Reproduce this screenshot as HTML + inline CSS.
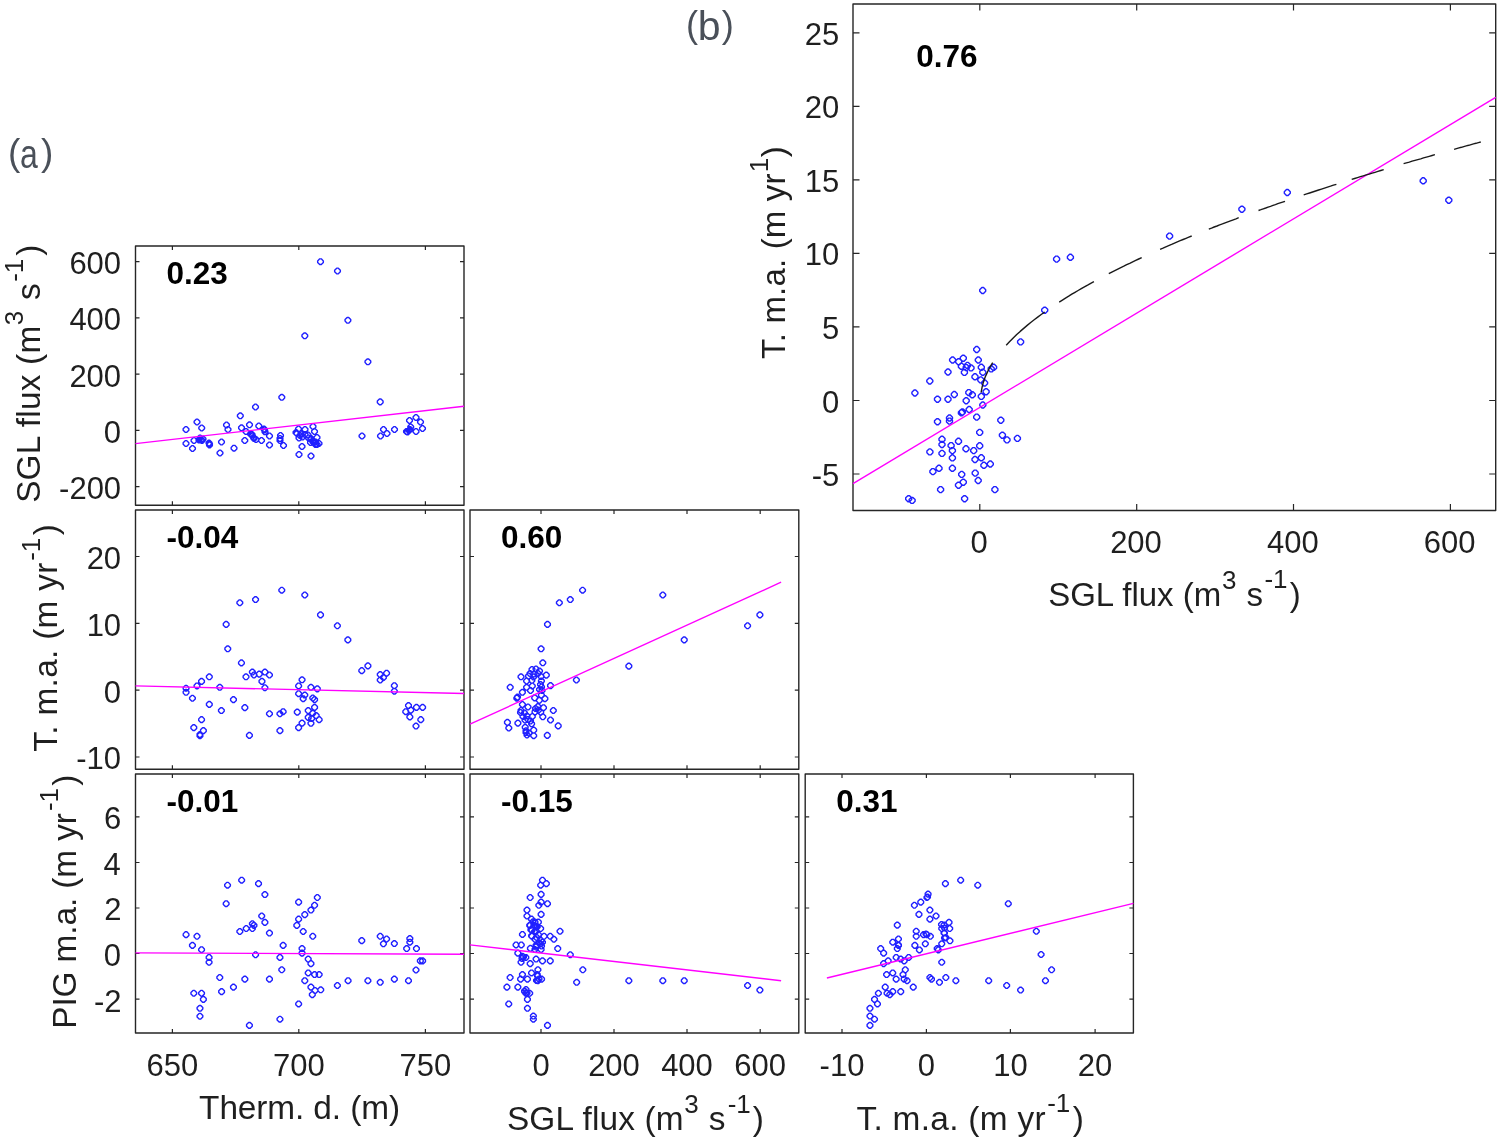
<!DOCTYPE html>
<html><head><meta charset="utf-8"><style>
html,body{margin:0;padding:0;background:#fff;width:1500px;height:1141px;overflow:hidden}
svg{display:block;will-change:transform}
text{font-family:"Liberation Sans", sans-serif}
</style></head><body>
<svg width="1500" height="1141" viewBox="0 0 1500 1141" font-family='"Liberation Sans", sans-serif'><path d="M172.4 505.3v-4M172.4 246.0v4M298.8 505.3v-4M298.8 246.0v4M425.4 505.3v-4M425.4 246.0v4M135.5 261.6h4M464.0 261.6h-4M135.5 317.9h4M464.0 317.9h-4M135.5 374.1h4M464.0 374.1h-4M135.5 430.4h4M464.0 430.4h-4M135.5 486.6h4M464.0 486.6h-4" stroke="#262626" stroke-width="1.2" fill="none"/>
<rect x="135.5" y="246" width="328.5" height="259.3" stroke="#262626" stroke-width="1.4" stroke-linejoin="round" fill="none"/>
<path d="M172.4 769.2v-4M172.4 510.0v4M298.8 769.2v-4M298.8 510.0v4M425.4 769.2v-4M425.4 510.0v4M135.5 556.5h4M464.0 556.5h-4M135.5 623.3h4M464.0 623.3h-4M135.5 690.2h4M464.0 690.2h-4M135.5 757.0h4M464.0 757.0h-4" stroke="#262626" stroke-width="1.2" fill="none"/>
<rect x="135.5" y="510" width="328.5" height="259.2" stroke="#262626" stroke-width="1.4" stroke-linejoin="round" fill="none"/>
<path d="M541.0 769.2v-4M541.0 510.0v4M614.0 769.2v-4M614.0 510.0v4M687.0 769.2v-4M687.0 510.0v4M760.2 769.2v-4M760.2 510.0v4M470.0 556.5h4M798.8 556.5h-4M470.0 623.3h4M798.8 623.3h-4M470.0 690.2h4M798.8 690.2h-4M470.0 757.0h4M798.8 757.0h-4" stroke="#262626" stroke-width="1.2" fill="none"/>
<rect x="470" y="510" width="328.8" height="259.2" stroke="#262626" stroke-width="1.4" stroke-linejoin="round" fill="none"/>
<path d="M172.4 1033.0v-4M172.4 774.0v4M298.8 1033.0v-4M298.8 774.0v4M425.4 1033.0v-4M425.4 774.0v4M135.5 816.9h4M464.0 816.9h-4M135.5 862.5h4M464.0 862.5h-4M135.5 908.0h4M464.0 908.0h-4M135.5 953.5h4M464.0 953.5h-4M135.5 999.1h4M464.0 999.1h-4" stroke="#262626" stroke-width="1.2" fill="none"/>
<rect x="135.5" y="774" width="328.5" height="259.0" stroke="#262626" stroke-width="1.4" stroke-linejoin="round" fill="none"/>
<path d="M541.0 1033.0v-4M541.0 774.0v4M614.0 1033.0v-4M614.0 774.0v4M687.0 1033.0v-4M687.0 774.0v4M760.2 1033.0v-4M760.2 774.0v4M470.0 816.9h4M798.8 816.9h-4M470.0 862.5h4M798.8 862.5h-4M470.0 908.0h4M798.8 908.0h-4M470.0 953.5h4M798.8 953.5h-4M470.0 999.1h4M798.8 999.1h-4" stroke="#262626" stroke-width="1.2" fill="none"/>
<rect x="470" y="774" width="328.8" height="259.0" stroke="#262626" stroke-width="1.4" stroke-linejoin="round" fill="none"/>
<path d="M842.0 1033.0v-4M842.0 774.0v4M926.4 1033.0v-4M926.4 774.0v4M1010.4 1033.0v-4M1010.4 774.0v4M1095.1 1033.0v-4M1095.1 774.0v4M805.2 816.9h4M1133.4 816.9h-4M805.2 862.5h4M1133.4 862.5h-4M805.2 908.0h4M1133.4 908.0h-4M805.2 953.5h4M1133.4 953.5h-4M805.2 999.1h4M1133.4 999.1h-4" stroke="#262626" stroke-width="1.2" fill="none"/>
<rect x="805.2" y="774" width="328.2" height="259.0" stroke="#262626" stroke-width="1.4" stroke-linejoin="round" fill="none"/>
<path d="M979.8 510.5v-6.5M979.8 4.0v6.5M1136.7 510.5v-6.5M1136.7 4.0v6.5M1293.5 510.5v-6.5M1293.5 4.0v6.5M1450.4 510.5v-6.5M1450.4 4.0v6.5M853.0 32.8h6.5M1495.7 32.8h-6.5M853.0 106.3h6.5M1495.7 106.3h-6.5M853.0 179.9h6.5M1495.7 179.9h-6.5M853.0 253.4h6.5M1495.7 253.4h-6.5M853.0 326.9h6.5M1495.7 326.9h-6.5M853.0 400.5h6.5M1495.7 400.5h-6.5M853.0 474.0h6.5M1495.7 474.0h-6.5" stroke="#262626" stroke-width="1.2" fill="none"/>
<rect x="853" y="4" width="642.7" height="506.5" stroke="#262626" stroke-width="1.4" stroke-linejoin="round" fill="none"/>
<text x="69.39" y="274.02" font-size="31.0" font-weight="normal" text-anchor="start" fill="#1f1f1f">600</text>
<text x="69.39" y="330.27" font-size="31.0" font-weight="normal" text-anchor="start" fill="#1f1f1f">400</text>
<text x="69.39" y="386.52" font-size="31.0" font-weight="normal" text-anchor="start" fill="#1f1f1f">200</text>
<text x="103.87" y="442.77" font-size="31.0" font-weight="normal" text-anchor="start" fill="#1f1f1f">0</text>
<text x="59.07" y="499.02" font-size="31.0" font-weight="normal" text-anchor="start" fill="#1f1f1f">-200</text>
<text x="86.63" y="568.92" font-size="31.0" font-weight="normal" text-anchor="start" fill="#1f1f1f">20</text>
<text x="86.63" y="635.72" font-size="31.0" font-weight="normal" text-anchor="start" fill="#1f1f1f">10</text>
<text x="103.87" y="702.62" font-size="31.0" font-weight="normal" text-anchor="start" fill="#1f1f1f">0</text>
<text x="76.31" y="769.42" font-size="31.0" font-weight="normal" text-anchor="start" fill="#1f1f1f">-10</text>
<text x="104.02" y="829.32" font-size="31.0" font-weight="normal" text-anchor="start" fill="#1f1f1f">6</text>
<text x="103.57" y="874.87" font-size="31.0" font-weight="normal" text-anchor="start" fill="#1f1f1f">4</text>
<text x="104.22" y="920.42" font-size="31.0" font-weight="normal" text-anchor="start" fill="#1f1f1f">2</text>
<text x="103.87" y="965.97" font-size="31.0" font-weight="normal" text-anchor="start" fill="#1f1f1f">0</text>
<text x="93.90" y="1011.52" font-size="31.0" font-weight="normal" text-anchor="start" fill="#1f1f1f">-2</text>
<text x="804.82" y="44.82" font-size="31.0" font-weight="normal" text-anchor="start" fill="#1f1f1f">25</text>
<text x="804.73" y="118.32" font-size="31.0" font-weight="normal" text-anchor="start" fill="#1f1f1f">20</text>
<text x="804.82" y="191.92" font-size="31.0" font-weight="normal" text-anchor="start" fill="#1f1f1f">15</text>
<text x="804.73" y="265.42" font-size="31.0" font-weight="normal" text-anchor="start" fill="#1f1f1f">10</text>
<text x="822.06" y="338.92" font-size="31.0" font-weight="normal" text-anchor="start" fill="#1f1f1f">5</text>
<text x="821.97" y="412.52" font-size="31.0" font-weight="normal" text-anchor="start" fill="#1f1f1f">0</text>
<text x="811.74" y="486.02" font-size="31.0" font-weight="normal" text-anchor="start" fill="#1f1f1f">-5</text>
<text x="172.40" y="1075.84" font-size="31.0" font-weight="normal" text-anchor="middle" fill="#1f1f1f">650</text>
<text x="298.80" y="1075.84" font-size="31.0" font-weight="normal" text-anchor="middle" fill="#1f1f1f">700</text>
<text x="425.40" y="1075.84" font-size="31.0" font-weight="normal" text-anchor="middle" fill="#1f1f1f">750</text>
<text x="541.00" y="1075.84" font-size="31.0" font-weight="normal" text-anchor="middle" fill="#1f1f1f">0</text>
<text x="614.00" y="1075.84" font-size="31.0" font-weight="normal" text-anchor="middle" fill="#1f1f1f">200</text>
<text x="687.00" y="1075.84" font-size="31.0" font-weight="normal" text-anchor="middle" fill="#1f1f1f">400</text>
<text x="760.20" y="1075.84" font-size="31.0" font-weight="normal" text-anchor="middle" fill="#1f1f1f">600</text>
<text x="842.00" y="1075.84" font-size="31.0" font-weight="normal" text-anchor="middle" fill="#1f1f1f">-10</text>
<text x="926.40" y="1075.84" font-size="31.0" font-weight="normal" text-anchor="middle" fill="#1f1f1f">0</text>
<text x="1010.40" y="1075.84" font-size="31.0" font-weight="normal" text-anchor="middle" fill="#1f1f1f">10</text>
<text x="1095.10" y="1075.84" font-size="31.0" font-weight="normal" text-anchor="middle" fill="#1f1f1f">20</text>
<text x="979.10" y="552.64" font-size="31.0" font-weight="normal" text-anchor="middle" fill="#1f1f1f">0</text>
<text x="1136.00" y="552.64" font-size="31.0" font-weight="normal" text-anchor="middle" fill="#1f1f1f">200</text>
<text x="1292.80" y="552.64" font-size="31.0" font-weight="normal" text-anchor="middle" fill="#1f1f1f">400</text>
<text x="1449.70" y="552.64" font-size="31.0" font-weight="normal" text-anchor="middle" fill="#1f1f1f">600</text>
<text x="166.50" y="283.90" font-size="31.5" font-weight="bold" text-anchor="start" fill="#000">0.23</text>
<text x="166.50" y="547.90" font-size="31.5" font-weight="bold" text-anchor="start" fill="#000">-0.04</text>
<text x="501.00" y="547.90" font-size="31.5" font-weight="bold" text-anchor="start" fill="#000">0.60</text>
<text x="166.50" y="811.90" font-size="31.5" font-weight="bold" text-anchor="start" fill="#000">-0.01</text>
<text x="501.00" y="811.90" font-size="31.5" font-weight="bold" text-anchor="start" fill="#000">-0.15</text>
<text x="836.20" y="811.90" font-size="31.5" font-weight="bold" text-anchor="start" fill="#000">0.31</text>
<text x="916.30" y="66.60" font-size="31.5" font-weight="bold" text-anchor="start" fill="#000">0.76</text>
<text x="8.00" y="165.10" font-size="37" font-weight="normal" text-anchor="start" fill="#4a5059">(</text>
<text transform="translate(20.04,167.6) scale(0.8,1)" font-size="40" fill="#4a5059">a</text>
<text x="40.90" y="165.10" font-size="37" font-weight="normal" text-anchor="start" fill="#4a5059">)</text>
<text x="686.00" y="36.90" font-size="36.2" font-weight="normal" text-anchor="start" fill="#4a5059">(</text>
<text x="697.80" y="40.20" font-size="41" font-weight="normal" text-anchor="start" fill="#4a5059">b</text>
<text x="721.80" y="36.90" font-size="36.2" font-weight="normal" text-anchor="start" fill="#4a5059">)</text>
<text x="199.10" y="1119.20" font-size="33.4" fill="#1f1f1f" textLength="200.92" lengthAdjust="spacing">Therm. d. (m)</text>
<text x="506.93" y="1129.60" font-size="33.4" fill="#1f1f1f" textLength="176.72" lengthAdjust="spacing">SGL flux (m</text>
<text x="684.26" y="1113.00" font-size="26.0" font-weight="normal" text-anchor="start" fill="#1f1f1f">3</text>
<text x="708.72" y="1129.60" font-size="33.4" font-weight="normal" text-anchor="start" fill="#1f1f1f">s</text>
<text x="727.69" y="1112.60" font-size="26.0" font-weight="normal" text-anchor="start" fill="#1f1f1f">-1</text>
<text x="752.85" y="1129.60" font-size="33.4" font-weight="normal" text-anchor="start" fill="#1f1f1f">)</text>
<text x="1048.15" y="605.50" font-size="33.0" fill="#1f1f1f" textLength="173.17" lengthAdjust="spacing">SGL flux (m</text>
<text x="1222.06" y="588.60" font-size="26.0" font-weight="normal" text-anchor="start" fill="#1f1f1f">3</text>
<text x="1246.43" y="605.50" font-size="33.0" font-weight="normal" text-anchor="start" fill="#1f1f1f">s</text>
<text x="1264.39" y="588.40" font-size="26.0" font-weight="normal" text-anchor="start" fill="#1f1f1f">-1</text>
<text x="1289.66" y="605.50" font-size="33.0" font-weight="normal" text-anchor="start" fill="#1f1f1f">)</text>
<text x="856.40" y="1129.60" font-size="33.4" fill="#1f1f1f" textLength="189.20" lengthAdjust="spacing">T. m.a. (m yr</text>
<text x="1047.19" y="1112.40" font-size="26.0" font-weight="normal" text-anchor="start" fill="#1f1f1f">-1</text>
<text x="1072.85" y="1129.60" font-size="33.4" font-weight="normal" text-anchor="start" fill="#1f1f1f">)</text>
<text transform="translate(39.80,502.87) rotate(-90)" x="0" y="0" font-size="33.4" fill="#1f1f1f" textLength="177.12" lengthAdjust="spacing">SGL flux (m</text>
<text transform="translate(22.90,325.24) rotate(-90)" x="0" y="0" font-size="26.0" fill="#1f1f1f">3</text>
<text transform="translate(39.80,299.98) rotate(-90)" x="0" y="0" font-size="33.4" fill="#1f1f1f">s</text>
<text transform="translate(23.20,281.81) rotate(-90)" x="0" y="0" font-size="26.0" fill="#1f1f1f">-1</text>
<text transform="translate(39.80,255.75) rotate(-90)" x="0" y="0" font-size="33.4" fill="#1f1f1f">)</text>
<text transform="translate(57.40,751.70) rotate(-90)" x="0" y="0" font-size="33.4" fill="#1f1f1f" textLength="189.10" lengthAdjust="spacing">T. m.a. (m yr</text>
<text transform="translate(40.20,560.81) rotate(-90)" x="0" y="0" font-size="26.0" fill="#1f1f1f">-1</text>
<text transform="translate(57.40,535.35) rotate(-90)" x="0" y="0" font-size="33.4" fill="#1f1f1f">)</text>
<text transform="translate(75.60,1028.79) rotate(-90)" x="0" y="0" font-size="33.4" fill="#1f1f1f" textLength="215.79" lengthAdjust="spacing">PIG m.a. (m yr</text>
<text transform="translate(58.40,811.11) rotate(-90)" x="0" y="0" font-size="26.0" fill="#1f1f1f">-1</text>
<text transform="translate(75.60,785.65) rotate(-90)" x="0" y="0" font-size="33.4" fill="#1f1f1f">)</text>
<text transform="translate(784.60,358.89) rotate(-90)" x="0" y="0" font-size="33.0" fill="#1f1f1f" textLength="185.39" lengthAdjust="spacing">T. m.a. (m yr</text>
<text transform="translate(767.50,172.13) rotate(-90)" x="0" y="0" font-size="26.0" fill="#1f1f1f">1</text>
<text transform="translate(784.60,157.24) rotate(-90)" x="0" y="0" font-size="33.0" fill="#1f1f1f">)</text>
<path d="M323.35 260.90L323.35 262.50L321.30 264.55L319.70 264.55L317.65 262.50L317.65 260.90L319.70 258.85L321.30 258.85ZM340.35 270.20L340.35 271.80L338.30 273.85L336.70 273.85L334.65 271.80L334.65 270.20L336.70 268.15L338.30 268.15ZM350.75 319.50L350.75 321.10L348.70 323.15L347.10 323.15L345.05 321.10L345.05 319.50L347.10 317.45L348.70 317.45ZM307.65 335.00L307.65 336.60L305.60 338.65L304.00 338.65L301.95 336.60L301.95 335.00L304.00 332.95L305.60 332.95ZM370.75 361.00L370.75 362.60L368.70 364.65L367.10 364.65L365.05 362.60L365.05 361.00L367.10 358.95L368.70 358.95ZM284.65 396.50L284.65 398.10L282.60 400.15L281.00 400.15L278.95 398.10L278.95 396.50L281.00 394.45L282.60 394.45ZM383.05 401.10L383.05 402.70L381.00 404.75L379.40 404.75L377.35 402.70L377.35 401.10L379.40 399.05L381.00 399.05ZM258.35 406.20L258.35 407.80L256.30 409.85L254.70 409.85L252.65 407.80L252.65 406.20L254.70 404.15L256.30 404.15ZM243.15 415.00L243.15 416.60L241.10 418.65L239.50 418.65L237.45 416.60L237.45 415.00L239.50 412.95L241.10 412.95ZM199.85 421.20L199.85 422.80L197.80 424.85L196.20 424.85L194.15 422.80L194.15 421.20L196.20 419.15L197.80 419.15ZM188.85 428.70L188.85 430.30L186.80 432.35L185.20 432.35L183.15 430.30L183.15 428.70L185.20 426.65L186.80 426.65ZM204.55 427.20L204.55 428.80L202.50 430.85L200.90 430.85L198.85 428.80L198.85 427.20L200.90 425.15L202.50 425.15ZM229.35 424.20L229.35 425.80L227.30 427.85L225.70 427.85L223.65 425.80L223.65 424.20L225.70 422.15L227.30 422.15ZM230.85 428.70L230.85 430.30L228.80 432.35L227.20 432.35L225.15 430.30L225.15 428.70L227.20 426.65L228.80 426.65ZM244.35 427.00L244.35 428.60L242.30 430.65L240.70 430.65L238.65 428.60L238.65 427.00L240.70 424.95L242.30 424.95ZM252.35 424.00L252.35 425.60L250.30 427.65L248.70 427.65L246.65 425.60L246.65 424.00L248.70 421.95L250.30 421.95ZM248.85 430.70L248.85 432.30L246.80 434.35L245.20 434.35L243.15 432.30L243.15 430.70L245.20 428.65L246.80 428.65ZM254.85 433.70L254.85 435.30L252.80 437.35L251.20 437.35L249.15 435.30L249.15 433.70L251.20 431.65L252.80 431.65ZM256.35 436.70L256.35 438.30L254.30 440.35L252.70 440.35L250.65 438.30L250.65 436.70L252.70 434.65L254.30 434.65ZM261.65 425.20L261.65 426.80L259.60 428.85L258.00 428.85L255.95 426.80L255.95 425.20L258.00 423.15L259.60 423.15ZM266.85 428.20L266.85 429.80L264.80 431.85L263.20 431.85L261.15 429.80L261.15 428.20L263.20 426.15L264.80 426.15ZM267.85 431.00L267.85 432.60L265.80 434.65L264.20 434.65L262.15 432.60L262.15 431.00L264.20 428.95L265.80 428.95ZM272.35 435.20L272.35 436.80L270.30 438.85L268.70 438.85L266.65 436.80L266.65 435.20L268.70 433.15L270.30 433.15ZM264.35 439.70L264.35 441.30L262.30 443.35L260.70 443.35L258.65 441.30L258.65 439.70L260.70 437.65L262.30 437.65ZM272.35 444.20L272.35 445.80L270.30 447.85L268.70 447.85L266.65 445.80L266.65 444.20L268.70 442.15L270.30 442.15ZM283.35 434.70L283.35 436.30L281.30 438.35L279.70 438.35L277.65 436.30L277.65 434.70L279.70 432.65L281.30 432.65ZM282.85 439.70L282.85 441.30L280.80 443.35L279.20 443.35L277.15 441.30L277.15 439.70L279.20 437.65L280.80 437.65ZM286.35 444.70L286.35 446.30L284.30 448.35L282.70 448.35L280.65 446.30L280.65 444.70L282.70 442.65L284.30 442.65ZM247.65 439.70L247.65 441.30L245.60 443.35L244.00 443.35L241.95 441.30L241.95 439.70L244.00 437.65L245.60 437.65ZM236.85 447.40L236.85 449.00L234.80 451.05L233.20 451.05L231.15 449.00L231.15 447.40L233.20 445.35L234.80 445.35ZM224.35 441.20L224.35 442.80L222.30 444.85L220.70 444.85L218.65 442.80L218.65 441.20L220.70 439.15L222.30 439.15ZM222.85 452.20L222.85 453.80L220.80 455.85L219.20 455.85L217.15 453.80L217.15 452.20L219.20 450.15L220.80 450.15ZM188.85 442.70L188.85 444.30L186.80 446.35L185.20 446.35L183.15 444.30L183.15 442.70L185.20 440.65L186.80 440.65ZM195.35 447.70L195.35 449.30L193.30 451.35L191.70 451.35L189.65 449.30L189.65 447.70L191.70 445.65L193.30 445.65ZM196.85 439.70L196.85 441.30L194.80 443.35L193.20 443.35L191.15 441.30L191.15 439.70L193.20 437.65L194.80 437.65ZM202.85 437.20L202.85 438.80L200.80 440.85L199.20 440.85L197.15 438.80L197.15 437.20L199.20 435.15L200.80 435.15ZM204.85 439.70L204.85 441.30L202.80 443.35L201.20 443.35L199.15 441.30L199.15 439.70L201.20 437.65L202.80 437.65ZM201.85 439.20L201.85 440.80L199.80 442.85L198.20 442.85L196.15 440.80L196.15 439.20L198.20 437.15L199.80 437.15ZM211.85 442.20L211.85 443.80L209.80 445.85L208.20 445.85L206.15 443.80L206.15 442.20L208.20 440.15L209.80 440.15ZM212.35 444.20L212.35 445.80L210.30 447.85L208.70 447.85L206.65 445.80L206.65 444.20L208.70 442.15L210.30 442.15ZM301.35 428.20L301.35 429.80L299.30 431.85L297.70 431.85L295.65 429.80L295.65 428.20L297.70 426.15L299.30 426.15ZM307.85 428.70L307.85 430.30L305.80 432.35L304.20 432.35L302.15 430.30L302.15 428.70L304.20 426.65L305.80 426.65ZM315.85 425.70L315.85 427.30L313.80 429.35L312.20 429.35L310.15 427.30L310.15 425.70L312.20 423.65L313.80 423.65ZM317.35 430.70L317.35 432.30L315.30 434.35L313.70 434.35L311.65 432.30L311.65 430.70L313.70 428.65L315.30 428.65ZM298.85 431.70L298.85 433.30L296.80 435.35L295.20 435.35L293.15 433.30L293.15 431.70L295.20 429.65L296.80 429.65ZM303.85 433.20L303.85 434.80L301.80 436.85L300.20 436.85L298.15 434.80L298.15 433.20L300.20 431.15L301.80 431.15ZM310.85 434.20L310.85 435.80L308.80 437.85L307.20 437.85L305.15 435.80L305.15 434.20L307.20 432.15L308.80 432.15ZM319.85 436.70L319.85 438.30L317.80 440.35L316.20 440.35L314.15 438.30L314.15 436.70L316.20 434.65L317.80 434.65ZM313.85 438.70L313.85 440.30L311.80 442.35L310.20 442.35L308.15 440.30L308.15 438.70L310.20 436.65L311.80 436.65ZM315.85 441.20L315.85 442.80L313.80 444.85L312.20 444.85L310.15 442.80L310.15 441.20L312.20 439.15L313.80 439.15ZM321.85 442.70L321.85 444.30L319.80 446.35L318.20 446.35L316.15 444.30L316.15 442.70L318.20 440.65L319.80 440.65ZM318.35 443.70L318.35 445.30L316.30 447.35L314.70 447.35L312.65 445.30L312.65 443.70L314.70 441.65L316.30 441.65ZM304.85 445.70L304.85 447.30L302.80 449.35L301.20 449.35L299.15 447.30L299.15 445.70L301.20 443.65L302.80 443.65ZM301.85 453.70L301.85 455.30L299.80 457.35L298.20 457.35L296.15 455.30L296.15 453.70L298.20 451.65L299.80 451.65ZM313.85 455.20L313.85 456.80L311.80 458.85L310.20 458.85L308.15 456.80L308.15 455.20L310.20 453.15L311.80 453.15ZM364.85 435.20L364.85 436.80L362.80 438.85L361.20 438.85L359.15 436.80L359.15 435.20L361.20 433.15L362.80 433.15ZM383.35 435.20L383.35 436.80L381.30 438.85L379.70 438.85L377.65 436.80L377.65 435.20L379.70 433.15L381.30 433.15ZM386.35 428.70L386.35 430.30L384.30 432.35L382.70 432.35L380.65 430.30L380.65 428.70L382.70 426.65L384.30 426.65ZM389.85 432.70L389.85 434.30L387.80 436.35L386.20 436.35L384.15 434.30L384.15 432.70L386.20 430.65L387.80 430.65ZM397.35 428.70L397.35 430.30L395.30 432.35L393.70 432.35L391.65 430.30L391.65 428.70L393.70 426.65L395.30 426.65ZM412.35 419.70L412.35 421.30L410.30 423.35L408.70 423.35L406.65 421.30L406.65 419.70L408.70 417.65L410.30 417.65ZM418.85 416.70L418.85 418.30L416.80 420.35L415.20 420.35L413.15 418.30L413.15 416.70L415.20 414.65L416.80 414.65ZM423.35 421.20L423.35 422.80L421.30 424.85L419.70 424.85L417.65 422.80L417.65 421.20L419.70 419.15L421.30 419.15ZM425.35 427.70L425.35 429.30L423.30 431.35L421.70 431.35L419.65 429.30L419.65 427.70L421.70 425.65L423.30 425.65ZM418.85 430.70L418.85 432.30L416.80 434.35L415.20 434.35L413.15 432.30L413.15 430.70L415.20 428.65L416.80 428.65ZM409.35 430.70L409.35 432.30L407.30 434.35L405.70 434.35L403.65 432.30L403.65 430.70L405.70 428.65L407.30 428.65ZM412.85 428.70L412.85 430.30L410.80 432.35L409.20 432.35L407.15 430.30L407.15 428.70L409.20 426.65L410.80 426.65ZM299.85 432.70L299.85 434.30L297.80 436.35L296.20 436.35L294.15 434.30L294.15 432.70L296.20 430.65L297.80 430.65ZM302.85 434.70L302.85 436.30L300.80 438.35L299.20 438.35L297.15 436.30L297.15 434.70L299.20 432.65L300.80 432.65ZM305.35 436.20L305.35 437.80L303.30 439.85L301.70 439.85L299.65 437.80L299.65 436.20L301.70 434.15L303.30 434.15ZM301.85 437.20L301.85 438.80L299.80 440.85L298.20 440.85L296.15 438.80L296.15 437.20L298.20 435.15L299.80 435.15ZM307.85 433.70L307.85 435.30L305.80 437.35L304.20 437.35L302.15 435.30L302.15 433.70L304.20 431.65L305.80 431.65ZM311.35 437.20L311.35 438.80L309.30 440.85L307.70 440.85L305.65 438.80L305.65 437.20L307.70 435.15L309.30 435.15ZM313.85 437.70L313.85 439.30L311.80 441.35L310.20 441.35L308.15 439.30L308.15 437.70L310.20 435.65L311.80 435.65ZM315.85 439.70L315.85 441.30L313.80 443.35L312.20 443.35L310.15 441.30L310.15 439.70L312.20 437.65L313.80 437.65ZM313.35 441.70L313.35 443.30L311.30 445.35L309.70 445.35L307.65 443.30L307.65 441.70L309.70 439.65L311.30 439.65ZM318.35 441.20L318.35 442.80L316.30 444.85L314.70 444.85L312.65 442.80L312.65 441.20L314.70 439.15L316.30 439.15ZM319.85 443.70L319.85 445.30L317.80 447.35L316.20 447.35L314.15 445.30L314.15 443.70L316.20 441.65L317.80 441.65ZM203.85 439.20L203.85 440.80L201.80 442.85L200.20 442.85L198.15 440.80L198.15 439.20L200.20 437.15L201.80 437.15ZM205.85 438.20L205.85 439.80L203.80 441.85L202.20 441.85L200.15 439.80L200.15 438.20L202.20 436.15L203.80 436.15ZM253.35 433.20L253.35 434.80L251.30 436.85L249.70 436.85L247.65 434.80L247.65 433.20L249.70 431.15L251.30 431.15ZM255.35 435.20L255.35 436.80L253.30 438.85L251.70 438.85L249.65 436.80L249.65 435.20L251.70 433.15L253.30 433.15ZM256.85 437.70L256.85 439.30L254.80 441.35L253.20 441.35L251.15 439.30L251.15 437.70L253.20 435.65L254.80 435.65ZM258.85 438.70L258.85 440.30L256.80 442.35L255.20 442.35L253.15 440.30L253.15 438.70L255.20 436.65L256.80 436.65ZM267.35 429.20L267.35 430.80L265.30 432.85L263.70 432.85L261.65 430.80L261.65 429.20L263.70 427.15L265.30 427.15ZM282.85 437.70L282.85 439.30L280.80 441.35L279.20 441.35L277.15 439.30L277.15 437.70L279.20 435.65L280.80 435.65ZM212.35 443.20L212.35 444.80L210.30 446.85L208.70 446.85L206.65 444.80L206.65 443.20L208.70 441.15L210.30 441.15ZM410.35 431.20L410.35 432.80L408.30 434.85L406.70 434.85L404.65 432.80L404.65 431.20L406.70 429.15L408.30 429.15ZM411.85 429.70L411.85 431.30L409.80 433.35L408.20 433.35L406.15 431.30L406.15 429.70L408.20 427.65L409.80 427.65ZM413.55 426.20L413.55 427.80L411.50 429.85L409.90 429.85L407.85 427.80L407.85 426.20L409.90 424.15L411.50 424.15Z" stroke="#2020ff" stroke-width="1.4" stroke-linejoin="round" fill="none"/>
<path d="M284.62 589.42L284.62 591.02L282.57 593.07L280.97 593.07L278.92 591.02L278.92 589.42L280.97 587.37L282.57 587.37ZM307.64 594.21L307.64 595.81L305.59 597.86L303.99 597.86L301.94 595.81L301.94 594.21L303.99 592.16L305.59 592.16ZM242.68 601.96L242.68 603.56L240.63 605.61L239.03 605.61L236.98 603.56L236.98 601.96L239.03 599.91L240.63 599.91ZM258.41 598.76L258.41 600.36L256.36 602.41L254.76 602.41L252.71 600.36L252.71 598.76L254.76 596.71L256.36 596.71ZM323.36 614.03L323.36 615.63L321.31 617.68L319.71 617.68L317.66 615.63L317.66 614.03L319.71 611.98L321.31 611.98ZM340.23 624.97L340.23 626.57L338.18 628.62L336.58 628.62L334.53 626.57L334.53 624.97L336.58 622.92L338.18 622.92ZM350.71 639.10L350.71 640.70L348.66 642.75L347.06 642.75L345.01 640.70L345.01 639.10L347.06 637.05L348.66 637.05ZM229.01 623.61L229.01 625.21L226.96 627.26L225.36 627.26L223.31 625.21L223.31 623.61L225.36 621.56L226.96 621.56ZM230.61 647.99L230.61 649.59L228.56 651.64L226.96 651.64L224.91 649.59L224.91 647.99L226.96 645.94L228.56 645.94ZM244.28 662.12L244.28 663.72L242.23 665.77L240.63 665.77L238.58 663.72L238.58 662.12L240.63 660.07L242.23 660.07ZM364.61 669.87L364.61 671.47L362.56 673.52L360.96 673.52L358.91 671.47L358.91 669.87L360.96 667.82L362.56 667.82ZM370.76 665.08L370.76 666.68L368.71 668.73L367.11 668.73L365.06 666.68L365.06 665.08L367.11 663.03L368.71 663.03ZM383.07 673.74L383.07 675.34L381.02 677.39L379.42 677.39L377.37 675.34L377.37 673.74L379.42 671.69L381.02 671.69ZM386.26 676.71L386.26 678.31L384.21 680.36L382.61 680.36L380.56 678.31L380.56 676.71L382.61 674.66L384.21 674.66ZM389.45 672.38L389.45 673.98L387.40 676.03L385.80 676.03L383.75 673.98L383.75 672.38L385.80 670.33L387.40 670.33ZM383.07 679.21L383.07 680.81L381.02 682.86L379.42 682.86L377.37 680.81L377.37 679.21L379.42 677.16L381.02 677.16ZM397.20 684.91L397.20 686.51L395.15 688.56L393.55 688.56L391.50 686.51L391.50 684.91L393.55 682.86L395.15 682.86ZM397.20 690.38L397.20 691.98L395.15 694.03L393.55 694.03L391.50 691.98L391.50 690.38L393.55 688.33L395.15 688.33ZM212.15 676.02L212.15 677.62L210.10 679.67L208.50 679.67L206.45 677.62L206.45 676.02L208.50 673.97L210.10 673.97ZM204.40 680.58L204.40 682.18L202.35 684.23L200.75 684.23L198.70 682.18L198.70 680.58L200.75 678.53L202.35 678.53ZM199.84 685.14L199.84 686.74L197.79 688.79L196.19 688.79L194.14 686.74L194.14 685.14L196.19 683.09L197.79 683.09ZM188.90 687.42L188.90 689.02L186.85 691.07L185.25 691.07L183.20 689.02L183.20 687.42L185.25 685.37L186.85 685.37ZM188.90 691.52L188.90 693.12L186.85 695.17L185.25 695.17L183.20 693.12L183.20 691.52L185.25 689.47L186.85 689.47ZM195.28 697.45L195.28 699.05L193.23 701.10L191.63 701.10L189.58 699.05L189.58 697.45L191.63 695.40L193.23 695.40ZM212.15 703.60L212.15 705.20L210.10 707.25L208.50 707.25L206.45 705.20L206.45 703.60L208.50 701.55L210.10 701.55ZM222.63 686.51L222.63 688.11L220.58 690.16L218.98 690.16L216.93 688.11L216.93 686.51L218.98 684.46L220.58 684.46ZM224.22 709.75L224.22 711.35L222.17 713.40L220.57 713.40L218.52 711.35L218.52 709.75L220.57 707.70L222.17 707.70ZM236.30 698.81L236.30 700.41L234.25 702.46L232.65 702.46L230.60 700.41L230.60 698.81L232.65 696.76L234.25 696.76ZM247.70 706.79L247.70 708.39L245.65 710.44L244.05 710.44L242.00 708.39L242.00 706.79L244.05 704.74L245.65 704.74ZM248.84 676.02L248.84 677.62L246.79 679.67L245.19 679.67L243.14 677.62L243.14 676.02L245.19 673.97L246.79 673.97ZM255.22 671.24L255.22 672.84L253.17 674.89L251.57 674.89L249.52 672.84L249.52 671.24L251.57 669.19L253.17 669.19ZM256.81 674.20L256.81 675.80L254.76 677.85L253.16 677.85L251.11 675.80L251.11 674.20L253.16 672.15L254.76 672.15ZM262.06 673.29L262.06 674.89L260.01 676.94L258.41 676.94L256.36 674.89L256.36 673.29L258.41 671.24L260.01 671.24ZM267.75 671.24L267.75 672.84L265.70 674.89L264.10 674.89L262.05 672.84L262.05 671.24L264.10 669.19L265.70 669.19ZM272.31 674.20L272.31 675.80L270.26 677.85L268.66 677.85L266.61 675.80L266.61 674.20L268.66 672.15L270.26 672.15ZM264.79 680.58L264.79 682.18L262.74 684.23L261.14 684.23L259.09 682.18L259.09 680.58L261.14 678.53L262.74 678.53ZM267.75 686.96L267.75 688.56L265.70 690.61L264.10 690.61L262.05 688.56L262.05 686.96L264.10 684.91L265.70 684.91ZM272.31 712.94L272.31 714.54L270.26 716.59L268.66 716.59L266.61 714.54L266.61 712.94L268.66 710.89L270.26 710.89ZM282.79 712.94L282.79 714.54L280.74 716.59L279.14 716.59L277.09 714.54L277.09 712.94L279.14 710.89L280.74 710.89ZM285.99 710.89L285.99 712.49L283.94 714.54L282.34 714.54L280.29 712.49L280.29 710.89L282.34 708.84L283.94 708.84ZM282.79 729.81L282.79 731.41L280.74 733.46L279.14 733.46L277.09 731.41L277.09 729.81L279.14 727.76L280.74 727.76ZM252.26 734.59L252.26 736.19L250.21 738.24L248.61 738.24L246.56 736.19L246.56 734.59L248.61 732.54L250.21 732.54ZM204.40 718.87L204.40 720.47L202.35 722.52L200.75 722.52L198.70 720.47L198.70 718.87L200.75 716.82L202.35 716.82ZM196.65 726.85L196.65 728.45L194.60 730.50L193.00 730.50L190.95 728.45L190.95 726.85L193.00 724.80L194.60 724.80ZM206.22 729.81L206.22 731.41L204.17 733.46L202.57 733.46L200.52 731.41L200.52 729.81L202.57 727.76L204.17 727.76ZM202.80 733.68L202.80 735.28L200.75 737.33L199.15 737.33L197.10 735.28L197.10 733.68L199.15 731.63L200.75 731.63ZM202.80 734.82L202.80 736.42L200.75 738.47L199.15 738.47L197.10 736.42L197.10 734.82L199.15 732.77L200.75 732.77ZM304.90 678.99L304.90 680.59L302.85 682.64L301.25 682.64L299.20 680.59L299.20 678.99L301.25 676.94L302.85 676.94ZM301.48 685.14L301.48 686.74L299.43 688.79L297.83 688.79L295.78 686.74L295.78 685.14L297.83 683.09L299.43 683.09ZM313.79 686.51L313.79 688.11L311.74 690.16L310.14 690.16L308.09 688.11L308.09 686.51L310.14 684.46L311.74 684.46ZM320.17 688.10L320.17 689.70L318.12 691.75L316.52 691.75L314.47 689.70L314.47 688.10L316.52 686.05L318.12 686.05ZM301.48 692.89L301.48 694.49L299.43 696.54L297.83 696.54L295.78 694.49L295.78 692.89L297.83 690.84L299.43 690.84ZM307.64 694.26L307.64 695.86L305.59 697.91L303.99 697.91L301.94 695.86L301.94 694.26L303.99 692.21L305.59 692.21ZM306.04 697.90L306.04 699.50L303.99 701.55L302.39 701.55L300.34 699.50L300.34 697.90L302.39 695.85L303.99 695.85ZM315.61 697.22L315.61 698.82L313.56 700.87L311.96 700.87L309.91 698.82L309.91 697.22L311.96 695.17L313.56 695.17ZM317.44 698.81L317.44 700.41L315.39 702.46L313.79 702.46L311.74 700.41L311.74 698.81L313.79 696.76L315.39 696.76ZM317.44 706.56L317.44 708.16L315.39 710.21L313.79 710.21L311.74 708.16L311.74 706.56L313.79 704.51L315.39 704.51ZM311.05 709.75L311.05 711.35L309.00 713.40L307.40 713.40L305.35 711.35L305.35 709.75L307.40 707.70L309.00 707.70ZM300.12 711.35L300.12 712.95L298.07 715.00L296.47 715.00L294.42 712.95L294.42 711.35L296.47 709.30L298.07 709.30ZM315.61 712.49L315.61 714.09L313.56 716.14L311.96 716.14L309.91 714.09L309.91 712.49L311.96 710.44L313.56 710.44ZM319.03 714.77L319.03 716.37L316.98 718.42L315.38 718.42L313.33 716.37L313.33 714.77L315.38 712.72L316.98 712.72ZM321.99 718.87L321.99 720.47L319.94 722.52L318.34 722.52L316.29 720.47L316.29 718.87L318.34 716.82L319.94 716.82ZM311.05 716.59L311.05 718.19L309.00 720.24L307.40 720.24L305.35 718.19L305.35 716.59L307.40 714.54L309.00 714.54ZM314.47 717.73L314.47 719.33L312.42 721.38L310.82 721.38L308.77 719.33L308.77 717.73L310.82 715.68L312.42 715.68ZM313.79 722.51L313.79 724.11L311.74 726.16L310.14 726.16L308.09 724.11L308.09 722.51L310.14 720.46L311.74 720.46ZM304.90 722.29L304.90 723.89L302.85 725.94L301.25 725.94L299.20 723.89L299.20 722.29L301.25 720.24L302.85 720.24ZM301.48 726.85L301.48 728.45L299.43 730.50L297.83 730.50L295.78 728.45L295.78 726.85L297.83 724.80L299.43 724.80ZM411.33 704.74L411.33 706.34L409.28 708.39L407.68 708.39L405.63 706.34L405.63 704.74L407.68 702.69L409.28 702.69ZM419.31 706.56L419.31 708.16L417.26 710.21L415.66 710.21L413.61 708.16L413.61 706.56L415.66 704.51L417.26 704.51ZM425.46 706.56L425.46 708.16L423.41 710.21L421.81 710.21L419.76 708.16L419.76 706.56L421.81 704.51L423.41 704.51ZM408.60 710.89L408.60 712.49L406.55 714.54L404.95 714.54L402.90 712.49L402.90 710.89L404.95 708.84L406.55 708.84ZM413.61 709.30L413.61 710.90L411.56 712.95L409.96 712.95L407.91 710.90L407.91 709.30L409.96 707.25L411.56 707.25ZM412.70 716.13L412.70 717.73L410.65 719.78L409.05 719.78L407.00 717.73L407.00 716.13L409.05 714.08L410.65 714.08ZM423.64 718.87L423.64 720.47L421.59 722.52L419.99 722.52L417.94 720.47L417.94 718.87L419.99 716.82L421.59 716.82ZM418.85 725.25L418.85 726.85L416.80 728.90L415.20 728.90L413.15 726.85L413.15 725.25L415.20 723.20L416.80 723.20Z" stroke="#2020ff" stroke-width="1.4" stroke-linejoin="round" fill="none"/>
<path d="M585.43 589.42L585.43 591.02L583.38 593.07L581.78 593.07L579.73 591.02L579.73 589.42L581.78 587.37L583.38 587.37ZM665.65 594.21L665.65 595.81L663.60 597.86L662.00 597.86L659.95 595.81L659.95 594.21L662.00 592.16L663.60 592.16ZM562.19 601.96L562.19 603.56L560.14 605.61L558.54 605.61L556.49 603.56L556.49 601.96L558.54 599.91L560.14 599.91ZM573.13 598.76L573.13 600.36L571.08 602.41L569.48 602.41L567.43 600.36L567.43 598.76L569.48 596.71L571.08 596.71ZM550.34 623.61L550.34 625.21L548.29 627.26L546.69 627.26L544.64 625.21L544.64 623.61L546.69 621.56L548.29 621.56ZM762.74 614.03L762.74 615.63L760.69 617.68L759.09 617.68L757.04 615.63L757.04 614.03L759.09 611.98L760.69 611.98ZM750.43 624.97L750.43 626.57L748.38 628.62L746.78 628.62L744.73 626.57L744.73 624.97L746.78 622.92L748.38 622.92ZM687.08 639.10L687.08 640.70L685.03 642.75L683.43 642.75L681.38 640.70L681.38 639.10L683.43 637.05L685.03 637.05ZM543.95 647.99L543.95 649.59L541.90 651.64L540.30 651.64L538.25 649.59L538.25 647.99L540.30 645.94L541.90 645.94ZM631.70 665.31L631.70 666.91L629.65 668.96L628.05 668.96L626.00 666.91L626.00 665.31L628.05 663.26L629.65 663.26ZM545.65 662.00L545.65 663.60L543.60 665.65L542.00 665.65L539.95 663.60L539.95 662.00L542.00 659.95L543.60 659.95ZM523.85 676.00L523.85 677.60L521.80 679.65L520.20 679.65L518.15 677.60L518.15 676.00L520.20 673.95L521.80 673.95ZM513.05 686.50L513.05 688.10L511.00 690.15L509.40 690.15L507.35 688.10L507.35 686.50L509.40 684.45L511.00 684.45ZM549.15 674.30L549.15 675.90L547.10 677.95L545.50 677.95L543.45 675.90L543.45 674.30L545.50 672.25L547.10 672.25ZM553.35 684.80L553.35 686.40L551.30 688.45L549.70 688.45L547.65 686.40L547.65 684.80L549.70 682.75L551.30 682.75ZM579.25 679.20L579.25 680.80L577.20 682.85L575.60 682.85L573.55 680.80L573.55 679.20L575.60 677.15L577.20 677.15ZM529.45 680.20L529.45 681.80L527.40 683.85L525.80 683.85L523.75 681.80L523.75 680.20L525.80 678.15L527.40 678.15ZM534.75 679.50L534.75 681.10L532.70 683.15L531.10 683.15L529.05 681.10L529.05 679.50L531.10 677.45L532.70 677.45ZM544.25 680.20L544.25 681.80L542.20 683.85L540.60 683.85L538.55 681.80L538.55 680.20L540.60 678.15L542.20 678.15ZM529.45 686.50L529.45 688.10L527.40 690.15L525.80 690.15L523.75 688.10L523.75 686.50L525.80 684.45L527.40 684.45ZM535.15 685.20L535.15 686.80L533.10 688.85L531.50 688.85L529.45 686.80L529.45 685.20L531.50 683.15L533.10 683.15ZM533.35 689.70L533.35 691.30L531.30 693.35L529.70 693.35L527.65 691.30L527.65 689.70L529.70 687.65L531.30 687.65ZM525.25 691.50L525.25 693.10L523.20 695.15L521.60 695.15L519.55 693.10L519.55 691.50L521.60 689.45L523.20 689.45ZM519.65 697.40L519.65 699.00L517.60 701.05L516.00 701.05L513.95 699.00L513.95 697.40L516.00 695.35L517.60 695.35ZM520.35 696.20L520.35 697.80L518.30 699.85L516.70 699.85L514.65 697.80L514.65 696.20L516.70 694.15L518.30 694.15ZM537.55 697.10L537.55 698.70L535.50 700.75L533.90 700.75L531.85 698.70L531.85 697.10L533.90 695.05L535.50 695.05ZM544.25 694.30L544.25 695.90L542.20 697.95L540.60 697.95L538.55 695.90L538.55 694.30L540.60 692.25L542.20 692.25ZM542.15 699.50L542.15 701.10L540.10 703.15L538.50 703.15L536.45 701.10L536.45 699.50L538.50 697.45L540.10 697.45ZM547.75 697.80L547.75 699.40L545.70 701.45L544.10 701.45L542.05 699.40L542.05 697.80L544.10 695.75L545.70 695.75ZM525.25 703.70L525.25 705.30L523.20 707.35L521.60 707.35L519.55 705.30L519.55 703.70L521.60 701.65L523.20 701.65ZM530.85 706.20L530.85 707.80L528.80 709.85L527.20 709.85L525.15 707.80L525.15 706.20L527.20 704.15L528.80 704.15ZM540.75 705.80L540.75 707.40L538.70 709.45L537.10 709.45L535.05 707.40L535.05 705.80L537.10 703.75L538.70 703.75ZM546.35 706.90L546.35 708.50L544.30 710.55L542.70 710.55L540.65 708.50L540.65 706.90L542.70 704.85L544.30 704.85ZM556.15 709.70L556.15 711.30L554.10 713.35L552.50 713.35L550.45 711.30L550.45 709.70L552.50 707.65L554.10 707.65ZM537.85 711.10L537.85 712.70L535.80 714.75L534.20 714.75L532.15 712.70L532.15 711.10L534.20 709.05L535.80 709.05ZM543.55 711.40L543.55 713.00L541.50 715.05L539.90 715.05L537.85 713.00L537.85 711.40L539.90 709.35L541.50 709.35ZM535.15 715.70L535.15 717.30L533.10 719.35L531.50 719.35L529.45 717.30L529.45 715.70L531.50 713.65L533.10 713.65ZM545.65 716.00L545.65 717.60L543.60 719.65L542.00 719.65L539.95 717.60L539.95 716.00L542.00 713.95L543.60 713.95ZM553.35 719.20L553.35 720.80L551.30 722.85L549.70 722.85L547.65 720.80L547.65 719.20L549.70 717.15L551.30 717.15ZM520.75 722.30L520.75 723.90L518.70 725.95L517.10 725.95L515.05 723.90L515.05 722.30L517.10 720.25L518.70 720.25ZM510.25 721.60L510.25 723.20L508.20 725.25L506.60 725.25L504.55 723.20L504.55 721.60L506.60 719.55L508.20 719.55ZM511.65 727.20L511.65 728.80L509.60 730.85L508.00 730.85L505.95 728.80L505.95 727.20L508.00 725.15L509.60 725.15ZM561.05 725.10L561.05 726.70L559.00 728.75L557.40 728.75L555.35 726.70L555.35 725.10L557.40 723.05L559.00 723.05ZM534.45 723.00L534.45 724.60L532.40 726.65L530.80 726.65L528.75 724.60L528.75 723.00L530.80 720.95L532.40 720.95ZM528.05 726.50L528.05 728.10L526.00 730.15L524.40 730.15L522.35 728.10L522.35 726.50L524.40 724.45L526.00 724.45ZM536.55 729.30L536.55 730.90L534.50 732.95L532.90 732.95L530.85 730.90L530.85 729.30L532.90 727.25L534.50 727.25ZM529.85 734.20L529.85 735.80L527.80 737.85L526.20 737.85L524.15 735.80L524.15 734.20L526.20 732.15L527.80 732.15ZM536.55 734.90L536.55 736.50L534.50 738.55L532.90 738.55L530.85 736.50L530.85 734.90L532.90 732.85L534.50 732.85ZM550.15 734.60L550.15 736.20L548.10 738.25L546.50 738.25L544.45 736.20L544.45 734.60L546.50 732.55L548.10 732.55ZM528.85 730.00L528.85 731.60L526.80 733.65L525.20 733.65L523.15 731.60L523.15 730.00L525.20 727.95L526.80 727.95ZM534.85 668.70L534.85 670.30L532.80 672.35L531.20 672.35L529.15 670.30L529.15 668.70L531.20 666.65L532.80 666.65ZM538.85 668.20L538.85 669.80L536.80 671.85L535.20 671.85L533.15 669.80L533.15 668.20L535.20 666.15L536.80 666.15ZM542.35 670.20L542.35 671.80L540.30 673.85L538.70 673.85L536.65 671.80L536.65 670.20L538.70 668.15L540.30 668.15ZM532.85 672.70L532.85 674.30L530.80 676.35L529.20 676.35L527.15 674.30L527.15 672.70L529.20 670.65L530.80 670.65ZM536.85 673.20L536.85 674.80L534.80 676.85L533.20 676.85L531.15 674.80L531.15 673.20L533.20 671.15L534.80 671.15ZM540.85 672.70L540.85 674.30L538.80 676.35L537.20 676.35L535.15 674.30L535.15 672.70L537.20 670.65L538.80 670.65ZM543.85 675.70L543.85 677.30L541.80 679.35L540.20 679.35L538.15 677.30L538.15 675.70L540.20 673.65L541.80 673.65ZM531.35 675.20L531.35 676.80L529.30 678.85L527.70 678.85L525.65 676.80L525.65 675.20L527.70 673.15L529.30 673.15ZM536.35 676.20L536.35 677.80L534.30 679.85L532.70 679.85L530.65 677.80L530.65 676.20L532.70 674.15L534.30 674.15ZM543.35 683.70L543.35 685.30L541.30 687.35L539.70 687.35L537.65 685.30L537.65 683.70L539.70 681.65L541.30 681.65ZM544.35 686.20L544.35 687.80L542.30 689.85L540.70 689.85L538.65 687.80L538.65 686.20L540.70 684.15L542.30 684.15ZM542.35 688.70L542.35 690.30L540.30 692.35L538.70 692.35L536.65 690.30L536.65 688.70L538.70 686.65L540.30 686.65ZM544.85 689.70L544.85 691.30L542.80 693.35L541.20 693.35L539.15 691.30L539.15 689.70L541.20 687.65L542.80 687.65ZM523.35 711.70L523.35 713.30L521.30 715.35L519.70 715.35L517.65 713.30L517.65 711.70L519.70 709.65L521.30 709.65ZM527.35 712.20L527.35 713.80L525.30 715.85L523.70 715.85L521.65 713.80L521.65 712.20L523.70 710.15L525.30 710.15ZM529.85 715.20L529.85 716.80L527.80 718.85L526.20 718.85L524.15 716.80L524.15 715.20L526.20 713.15L527.80 713.15ZM525.85 715.70L525.85 717.30L523.80 719.35L522.20 719.35L520.15 717.30L520.15 715.70L522.20 713.65L523.80 713.65ZM530.85 718.70L530.85 720.30L528.80 722.35L527.20 722.35L525.15 720.30L525.15 718.70L527.20 716.65L528.80 716.65ZM533.35 720.20L533.35 721.80L531.30 723.85L529.70 723.85L527.65 721.80L527.65 720.20L529.70 718.15L531.30 718.15ZM527.85 719.20L527.85 720.80L525.80 722.85L524.20 722.85L522.15 720.80L522.15 719.20L524.20 717.15L525.80 717.15ZM523.85 709.70L523.85 711.30L521.80 713.35L520.20 713.35L518.15 711.30L518.15 709.70L520.20 707.65L521.80 707.65ZM538.35 707.70L538.35 709.30L536.30 711.35L534.70 711.35L532.65 709.30L532.65 707.70L534.70 705.65L536.30 705.65ZM541.35 709.20L541.35 710.80L539.30 712.85L537.70 712.85L535.65 710.80L535.65 709.20L537.70 707.15L539.30 707.15ZM528.85 731.70L528.85 733.30L526.80 735.35L525.20 735.35L523.15 733.30L523.15 731.70L525.20 729.65L526.80 729.65ZM531.85 732.20L531.85 733.80L529.80 735.85L528.20 735.85L526.15 733.80L526.15 732.20L528.20 730.15L529.80 730.15Z" stroke="#2020ff" stroke-width="1.4" stroke-linejoin="round" fill="none"/>
<path d="M244.51 879.40L244.51 881.00L242.46 883.05L240.86 883.05L238.81 881.00L238.81 879.40L240.86 877.35L242.46 877.35ZM230.38 884.42L230.38 886.02L228.33 888.07L226.73 888.07L224.68 886.02L224.68 884.42L226.73 882.37L228.33 882.37ZM261.37 882.82L261.37 884.42L259.32 886.47L257.72 886.47L255.67 884.42L255.67 882.82L257.72 880.77L259.32 880.77ZM267.75 893.76L267.75 895.36L265.70 897.41L264.10 897.41L262.05 895.36L262.05 893.76L264.10 891.71L265.70 891.71ZM229.01 902.88L229.01 904.48L226.96 906.53L225.36 906.53L223.31 904.48L223.31 902.88L225.36 900.83L226.96 900.83ZM320.17 896.72L320.17 898.32L318.12 900.37L316.52 900.37L314.47 898.32L314.47 896.72L316.52 894.67L318.12 894.67ZM301.48 901.28L301.48 902.88L299.43 904.93L297.83 904.93L295.78 902.88L295.78 901.28L297.83 899.23L299.43 899.23ZM317.44 904.47L317.44 906.07L315.39 908.12L313.79 908.12L311.74 906.07L311.74 904.47L313.79 902.42L315.39 902.42ZM313.79 909.26L313.79 910.86L311.74 912.91L310.14 912.91L308.09 910.86L308.09 909.26L310.14 907.21L311.74 907.21ZM307.64 913.81L307.64 915.41L305.59 917.46L303.99 917.46L301.94 915.41L301.94 913.81L303.99 911.76L305.59 911.76ZM301.48 918.37L301.48 919.97L299.43 922.02L297.83 922.02L295.78 919.97L295.78 918.37L297.83 916.32L299.43 916.32ZM299.66 924.53L299.66 926.13L297.61 928.18L296.01 928.18L293.96 926.13L293.96 924.53L296.01 922.48L297.61 922.48ZM264.56 915.18L264.56 916.78L262.51 918.83L260.91 918.83L258.86 916.78L258.86 915.18L260.91 913.13L262.51 913.13ZM267.75 921.56L267.75 923.16L265.70 925.21L264.10 925.21L262.05 923.16L262.05 921.56L264.10 919.51L265.70 919.51ZM255.22 922.93L255.22 924.53L253.17 926.58L251.57 926.58L249.52 924.53L249.52 922.93L251.57 920.88L253.17 920.88ZM256.81 924.53L256.81 926.13L254.76 928.18L253.16 928.18L251.11 926.13L251.11 924.53L253.16 922.48L254.76 922.48ZM255.22 927.72L255.22 929.32L253.17 931.37L251.57 931.37L249.52 929.32L249.52 927.72L251.57 925.67L253.17 925.67ZM249.07 927.72L249.07 929.32L247.02 931.37L245.42 931.37L243.37 929.32L243.37 927.72L245.42 925.67L247.02 925.67ZM242.68 930.68L242.68 932.28L240.63 934.33L239.03 934.33L236.98 932.28L236.98 930.68L239.03 928.63L240.63 928.63ZM272.31 932.27L272.31 933.87L270.26 935.92L268.66 935.92L266.61 933.87L266.61 932.27L268.66 930.22L270.26 930.22ZM306.04 930.68L306.04 932.28L303.99 934.33L302.39 934.33L300.34 932.28L300.34 930.68L302.39 928.63L303.99 928.63ZM315.61 935.47L315.61 937.07L313.56 939.12L311.96 939.12L309.91 937.07L309.91 935.47L311.96 933.42L313.56 933.42ZM188.90 933.87L188.90 935.47L186.85 937.52L185.25 937.52L183.20 935.47L183.20 933.87L185.25 931.82L186.85 931.82ZM199.84 935.47L199.84 937.07L197.79 939.12L196.19 939.12L194.14 937.07L194.14 935.47L196.19 933.42L197.79 933.42ZM195.28 944.58L195.28 946.18L193.23 948.23L191.63 948.23L189.58 946.18L189.58 944.58L191.63 942.53L193.23 942.53ZM204.40 948.91L204.40 950.51L202.35 952.56L200.75 952.56L198.70 950.51L198.70 948.91L200.75 946.86L202.35 946.86ZM285.99 944.58L285.99 946.18L283.94 948.23L282.34 948.23L280.29 946.18L280.29 944.58L282.34 942.53L283.94 942.53ZM304.90 947.77L304.90 949.37L302.85 951.42L301.25 951.42L299.20 949.37L299.20 947.77L301.25 945.72L302.85 945.72ZM304.90 952.33L304.90 953.93L302.85 955.98L301.25 955.98L299.20 953.93L299.20 952.33L301.25 950.28L302.85 950.28ZM258.41 953.93L258.41 955.53L256.36 957.58L254.76 957.58L252.71 955.53L252.71 953.93L254.76 951.88L256.36 951.88ZM211.92 956.66L211.92 958.26L209.87 960.31L208.27 960.31L206.22 958.26L206.22 956.66L208.27 954.61L209.87 954.61ZM211.92 961.45L211.92 963.05L209.87 965.10L208.27 965.10L206.22 963.05L206.22 961.45L208.27 959.40L209.87 959.40ZM282.79 956.66L282.79 958.26L280.74 960.31L279.14 960.31L277.09 958.26L277.09 956.66L279.14 954.61L280.74 954.61ZM311.05 958.26L311.05 959.86L309.00 961.91L307.40 961.91L305.35 959.86L305.35 958.26L307.40 956.21L309.00 956.21ZM313.79 962.81L313.79 964.41L311.74 966.46L310.14 966.46L308.09 964.41L308.09 962.81L310.14 960.76L311.74 960.76ZM284.62 968.97L284.62 970.57L282.57 972.62L280.97 972.62L278.92 970.57L278.92 968.97L280.97 966.92L282.57 966.92ZM311.05 972.16L311.05 973.76L309.00 975.81L307.40 975.81L305.35 973.76L305.35 972.16L307.40 970.11L309.00 970.11ZM317.44 973.75L317.44 975.35L315.39 977.40L313.79 977.40L311.74 975.35L311.74 973.75L313.79 971.70L315.39 971.70ZM321.99 973.75L321.99 975.35L319.94 977.40L318.34 977.40L316.29 975.35L316.29 973.75L318.34 971.70L319.94 971.70ZM222.63 976.72L222.63 978.32L220.58 980.37L218.98 980.37L216.93 978.32L216.93 976.72L218.98 974.67L220.58 974.67ZM247.70 978.31L247.70 979.91L245.65 981.96L244.05 981.96L242.00 979.91L242.00 978.31L244.05 976.26L245.65 976.26ZM272.31 978.31L272.31 979.91L270.26 981.96L268.66 981.96L266.61 979.91L266.61 978.31L268.66 976.26L270.26 976.26ZM307.64 979.91L307.64 981.51L305.59 983.56L303.99 983.56L301.94 981.51L301.94 979.91L303.99 977.86L305.59 977.86ZM236.30 986.29L236.30 987.89L234.25 989.94L232.65 989.94L230.60 987.89L230.60 986.29L232.65 984.24L234.25 984.24ZM313.79 986.29L313.79 987.89L311.74 989.94L310.14 989.94L308.09 987.89L308.09 986.29L310.14 984.24L311.74 984.24ZM317.89 989.71L317.89 991.31L315.84 993.36L314.24 993.36L312.19 991.31L312.19 989.71L314.24 987.66L315.84 987.66ZM323.59 989.02L323.59 990.62L321.54 992.67L319.94 992.67L317.89 990.62L317.89 989.02L319.94 986.97L321.54 986.97ZM315.16 993.81L315.16 995.41L313.11 997.46L311.51 997.46L309.46 995.41L309.46 993.81L311.51 991.76L313.11 991.76ZM224.45 990.85L224.45 992.45L222.40 994.50L220.80 994.50L218.75 992.45L218.75 990.85L220.80 988.80L222.40 988.80ZM196.65 992.44L196.65 994.04L194.60 996.09L193.00 996.09L190.95 994.04L190.95 992.44L193.00 990.39L194.60 990.39ZM204.40 992.44L204.40 994.04L202.35 996.09L200.75 996.09L198.70 994.04L198.70 992.44L200.75 990.39L202.35 990.39ZM206.22 998.59L206.22 1000.19L204.17 1002.24L202.57 1002.24L200.52 1000.19L200.52 998.59L202.57 996.54L204.17 996.54ZM202.80 1007.48L202.80 1009.08L200.75 1011.13L199.15 1011.13L197.10 1009.08L197.10 1007.48L199.15 1005.43L200.75 1005.43ZM202.80 1015.46L202.80 1017.06L200.75 1019.11L199.15 1019.11L197.10 1017.06L197.10 1015.46L199.15 1013.41L200.75 1013.41ZM301.48 1003.15L301.48 1004.75L299.43 1006.80L297.83 1006.80L295.78 1004.75L295.78 1003.15L297.83 1001.10L299.43 1001.10ZM282.79 1018.42L282.79 1020.02L280.74 1022.07L279.14 1022.07L277.09 1020.02L277.09 1018.42L279.14 1016.37L280.74 1016.37ZM252.26 1024.57L252.26 1026.17L250.21 1028.22L248.61 1028.22L246.56 1026.17L246.56 1024.57L248.61 1022.52L250.21 1022.52ZM364.61 939.80L364.61 941.40L362.56 943.45L360.96 943.45L358.91 941.40L358.91 939.80L360.96 937.75L362.56 937.75ZM383.07 935.47L383.07 937.07L381.02 939.12L379.42 939.12L377.37 937.07L377.37 935.47L379.42 933.42L381.02 933.42ZM389.45 938.20L389.45 939.80L387.40 941.85L385.80 941.85L383.75 939.80L383.75 938.20L385.80 936.15L387.40 936.15ZM386.26 942.99L386.26 944.59L384.21 946.64L382.61 946.64L380.56 944.59L380.56 942.99L382.61 940.94L384.21 940.94ZM397.20 942.76L397.20 944.36L395.15 946.41L393.55 946.41L391.50 944.36L391.50 942.76L393.55 940.71L395.15 940.71ZM412.70 937.74L412.70 939.34L410.65 941.39L409.05 941.39L407.00 939.34L407.00 937.74L409.05 935.69L410.65 935.69ZM412.70 941.39L412.70 942.99L410.65 945.04L409.05 945.04L407.00 942.99L407.00 941.39L409.05 939.34L410.65 939.34ZM409.51 947.77L409.51 949.37L407.46 951.42L405.86 951.42L403.81 949.37L403.81 947.77L405.86 945.72L407.46 945.72ZM419.31 947.77L419.31 949.37L417.26 951.42L415.66 951.42L413.61 949.37L413.61 947.77L415.66 945.72L417.26 945.72ZM423.18 960.08L423.18 961.68L421.13 963.73L419.53 963.73L417.48 961.68L417.48 960.08L419.53 958.03L421.13 958.03ZM425.46 960.08L425.46 961.68L423.41 963.73L421.81 963.73L419.76 961.68L419.76 960.08L421.81 958.03L423.41 958.03ZM418.85 969.19L418.85 970.79L416.80 972.84L415.20 972.84L413.15 970.79L413.15 969.19L415.20 967.14L416.80 967.14ZM340.23 984.69L340.23 986.29L338.18 988.34L336.58 988.34L334.53 986.29L334.53 984.69L336.58 982.64L338.18 982.64ZM350.94 979.91L350.94 981.51L348.89 983.56L347.29 983.56L345.24 981.51L345.24 979.91L347.29 977.86L348.89 977.86ZM370.76 979.91L370.76 981.51L368.71 983.56L367.11 983.56L365.06 981.51L365.06 979.91L367.11 977.86L368.71 977.86ZM383.07 981.50L383.07 983.10L381.02 985.15L379.42 985.15L377.37 983.10L377.37 981.50L379.42 979.45L381.02 979.45ZM397.20 978.31L397.20 979.91L395.15 981.96L393.55 981.96L391.50 979.91L391.50 978.31L393.55 976.26L395.15 976.26ZM411.33 979.91L411.33 981.51L409.28 983.56L407.68 983.56L405.63 981.51L405.63 979.91L407.68 977.86L409.28 977.86Z" stroke="#2020ff" stroke-width="1.4" stroke-linejoin="round" fill="none"/>
<path d="M545.32 879.40L545.32 881.00L543.27 883.05L541.67 883.05L539.62 881.00L539.62 879.40L541.67 877.35L543.27 877.35ZM549.20 882.82L549.20 884.42L547.15 886.47L545.55 886.47L543.50 884.42L543.50 882.82L545.55 880.77L547.15 880.77ZM543.50 884.42L543.50 886.02L541.45 888.07L539.85 888.07L537.80 886.02L537.80 884.42L539.85 882.37L541.45 882.37ZM533.02 896.72L533.02 898.32L530.97 900.37L529.37 900.37L527.32 898.32L527.32 896.72L529.37 894.67L530.97 894.67ZM543.95 893.53L543.95 895.13L541.90 897.18L540.30 897.18L538.25 895.13L538.25 893.53L540.30 891.48L541.90 891.48ZM543.95 901.28L543.95 902.88L541.90 904.93L540.30 904.93L538.25 902.88L538.25 901.28L540.30 899.23L541.90 899.23ZM541.68 904.47L541.68 906.07L539.63 908.12L538.03 908.12L535.98 906.07L535.98 904.47L538.03 902.42L539.63 902.42ZM550.34 902.88L550.34 904.48L548.29 906.53L546.69 906.53L544.64 904.48L544.64 902.88L546.69 900.83L548.29 900.83ZM529.83 909.26L529.83 910.86L527.78 912.91L526.18 912.91L524.13 910.86L524.13 909.26L526.18 907.21L527.78 907.21ZM543.95 913.59L543.95 915.19L541.90 917.24L540.30 917.24L538.25 915.19L538.25 913.59L540.30 911.54L541.90 911.54ZM529.83 915.18L529.83 916.78L527.78 918.83L526.18 918.83L524.13 916.78L524.13 915.18L526.18 913.13L527.78 913.13ZM534.38 918.37L534.38 919.97L532.33 922.02L530.73 922.02L528.68 919.97L528.68 918.37L530.73 916.32L532.33 916.32ZM537.80 921.34L537.80 922.94L535.75 924.99L534.15 924.99L532.10 922.94L532.10 921.34L534.15 919.29L535.75 919.29ZM541.22 921.34L541.22 922.94L539.17 924.99L537.57 924.99L535.52 922.94L535.52 921.34L537.57 919.29L539.17 919.29ZM532.56 924.53L532.56 926.13L530.51 928.18L528.91 928.18L526.86 926.13L526.86 924.53L528.91 922.48L530.51 922.48ZM536.66 924.53L536.66 926.13L534.61 928.18L533.01 928.18L530.96 926.13L530.96 924.53L533.01 922.48L534.61 922.48ZM540.08 925.89L540.08 927.49L538.03 929.54L536.43 929.54L534.38 927.49L534.38 925.89L536.43 923.84L538.03 923.84ZM543.50 927.72L543.50 929.32L541.45 931.37L539.85 931.37L537.80 929.32L537.80 927.72L539.85 925.67L541.45 925.67ZM534.84 929.31L534.84 930.91L532.79 932.96L531.19 932.96L529.14 930.91L529.14 929.31L531.19 927.26L532.79 927.26ZM538.94 930.45L538.94 932.05L536.89 934.10L535.29 934.10L533.24 932.05L533.24 930.45L535.29 928.40L536.89 928.40ZM562.87 930.45L562.87 932.05L560.82 934.10L559.22 934.10L557.17 932.05L557.17 930.45L559.22 928.40L560.82 928.40ZM525.27 933.64L525.27 935.24L523.22 937.29L521.62 937.29L519.57 935.24L519.57 933.64L521.62 931.59L523.22 931.59ZM534.84 935.47L534.84 937.07L532.79 939.12L531.19 939.12L529.14 937.07L529.14 935.47L531.19 933.42L532.79 933.42ZM541.22 933.87L541.22 935.47L539.17 937.52L537.57 937.52L535.52 935.47L535.52 933.87L537.57 931.82L539.17 931.82ZM546.92 935.47L546.92 937.07L544.87 939.12L543.27 939.12L541.22 937.07L541.22 935.47L543.27 933.42L544.87 933.42ZM553.07 935.47L553.07 937.07L551.02 939.12L549.42 939.12L547.37 937.07L547.37 935.47L549.42 933.42L551.02 933.42ZM556.72 938.43L556.72 940.03L554.67 942.08L553.07 942.08L551.02 940.03L551.02 938.43L553.07 936.38L554.67 936.38ZM537.80 938.43L537.80 940.03L535.75 942.08L534.15 942.08L532.10 940.03L532.10 938.43L534.15 936.38L535.75 936.38ZM545.32 941.39L545.32 942.99L543.27 945.04L541.67 945.04L539.62 942.99L539.62 941.39L541.67 939.34L543.27 939.34ZM543.50 942.99L543.50 944.59L541.45 946.64L539.85 946.64L537.80 944.59L537.80 942.99L539.85 940.94L541.45 940.94ZM518.89 944.13L518.89 945.73L516.84 947.78L515.24 947.78L513.19 945.73L513.19 944.13L515.24 942.08L516.84 942.08ZM524.13 944.13L524.13 945.73L522.08 947.78L520.48 947.78L518.43 945.73L518.43 944.13L520.48 942.08L522.08 942.08ZM538.94 944.58L538.94 946.18L536.89 948.23L535.29 948.23L533.24 946.18L533.24 944.58L535.29 942.53L536.89 942.53ZM533.24 947.54L533.24 949.14L531.19 951.19L529.59 951.19L527.54 949.14L527.54 947.54L529.59 945.49L531.19 945.49ZM537.80 948.68L537.80 950.28L535.75 952.33L534.15 952.33L532.10 950.28L532.10 948.68L534.15 946.63L535.75 946.63ZM543.95 948.68L543.95 950.28L541.90 952.33L540.30 952.33L538.25 950.28L538.25 948.68L540.30 946.63L541.90 946.63ZM560.59 947.77L560.59 949.37L558.54 951.42L556.94 951.42L554.89 949.37L554.89 947.77L556.94 945.72L558.54 945.72ZM520.71 952.33L520.71 953.93L518.66 955.98L517.06 955.98L515.01 953.93L515.01 952.33L517.06 950.28L518.66 950.28ZM525.27 955.52L525.27 957.12L523.22 959.17L521.62 959.17L519.57 957.12L519.57 955.52L521.62 953.47L523.22 953.47ZM528.69 956.66L528.69 958.26L526.64 960.31L525.04 960.31L522.99 958.26L522.99 956.66L525.04 954.61L526.64 954.61ZM573.13 953.93L573.13 955.53L571.08 957.58L569.48 957.58L567.43 955.53L567.43 953.93L569.48 951.88L571.08 951.88ZM538.94 958.26L538.94 959.86L536.89 961.91L535.29 961.91L533.24 959.86L533.24 958.26L535.29 956.21L536.89 956.21ZM545.32 960.08L545.32 961.68L543.27 963.73L541.67 963.73L539.62 961.68L539.62 960.08L541.67 958.03L543.27 958.03ZM553.07 960.08L553.07 961.68L551.02 963.73L549.42 963.73L547.37 961.68L547.37 960.08L549.42 958.03L551.02 958.03ZM523.90 961.45L523.90 963.05L521.85 965.10L520.25 965.10L518.20 963.05L518.20 961.45L520.25 959.40L521.85 959.40ZM533.02 962.81L533.02 964.41L530.97 966.46L529.37 966.46L527.32 964.41L527.32 962.81L529.37 960.76L530.97 960.76ZM585.66 968.97L585.66 970.57L583.61 972.62L582.01 972.62L579.96 970.57L579.96 968.97L582.01 966.92L583.61 966.92ZM540.76 968.97L540.76 970.57L538.71 972.62L537.11 972.62L535.06 970.57L535.06 968.97L537.11 966.92L538.71 966.92ZM534.38 972.16L534.38 973.76L532.33 975.81L530.73 975.81L528.68 973.76L528.68 972.16L530.73 970.11L532.33 970.11ZM525.27 973.75L525.27 975.35L523.22 977.40L521.62 977.40L519.57 975.35L519.57 973.75L521.62 971.70L523.22 971.70ZM540.08 973.75L540.08 975.35L538.03 977.40L536.43 977.40L534.38 975.35L534.38 973.75L536.43 971.70L538.03 971.70ZM512.96 976.72L512.96 978.32L510.91 980.37L509.31 980.37L507.26 978.32L507.26 976.72L509.31 974.67L510.91 974.67ZM523.44 978.31L523.44 979.91L521.39 981.96L519.79 981.96L517.74 979.91L517.74 978.31L519.79 976.26L521.39 976.26ZM530.28 978.31L530.28 979.91L528.23 981.96L526.63 981.96L524.58 979.91L524.58 978.31L526.63 976.26L528.23 976.26ZM540.76 979.91L540.76 981.51L538.71 983.56L537.11 983.56L535.06 981.51L535.06 979.91L537.11 977.86L538.71 977.86ZM544.41 978.31L544.41 979.91L542.36 981.96L540.76 981.96L538.71 979.91L538.71 978.31L540.76 976.26L542.36 976.26ZM579.51 981.50L579.51 983.10L577.46 985.15L575.86 985.15L573.81 983.10L573.81 981.50L575.86 979.45L577.46 979.45ZM631.70 979.91L631.70 981.51L629.65 983.56L628.05 983.56L626.00 981.51L626.00 979.91L628.05 977.86L629.65 977.86ZM665.65 979.91L665.65 981.51L663.60 983.56L662.00 983.56L659.95 981.51L659.95 979.91L662.00 977.86L663.60 977.86ZM687.08 979.91L687.08 981.51L685.03 983.56L683.43 983.56L681.38 981.51L681.38 979.91L683.43 977.86L685.03 977.86ZM509.77 986.29L509.77 987.89L507.72 989.94L506.12 989.94L504.07 987.89L504.07 986.29L506.12 984.24L507.72 984.24ZM520.71 986.29L520.71 987.89L518.66 989.94L517.06 989.94L515.01 987.89L515.01 986.29L517.06 984.24L518.66 984.24ZM750.43 984.69L750.43 986.29L748.38 988.34L746.78 988.34L744.73 986.29L744.73 984.69L746.78 982.64L748.38 982.64ZM762.74 989.25L762.74 990.85L760.69 992.90L759.09 992.90L757.04 990.85L757.04 989.25L759.09 987.20L760.69 987.20ZM527.55 990.85L527.55 992.45L525.50 994.50L523.90 994.50L521.85 992.45L521.85 990.85L523.90 988.80L525.50 988.80ZM528.69 992.44L528.69 994.04L526.64 996.09L525.04 996.09L522.99 994.04L522.99 992.44L525.04 990.39L526.64 990.39ZM532.56 992.44L532.56 994.04L530.51 996.09L528.91 996.09L526.86 994.04L526.86 992.44L528.91 990.39L530.51 990.39ZM530.28 998.59L530.28 1000.19L528.23 1002.24L526.63 1002.24L524.58 1000.19L524.58 998.59L526.63 996.54L528.23 996.54ZM511.59 1003.15L511.59 1004.75L509.54 1006.80L507.94 1006.80L505.89 1004.75L505.89 1003.15L507.94 1001.10L509.54 1001.10ZM530.28 1007.48L530.28 1009.08L528.23 1011.13L526.63 1011.13L524.58 1009.08L524.58 1007.48L526.63 1005.43L528.23 1005.43ZM536.21 1015.23L536.21 1016.83L534.16 1018.88L532.56 1018.88L530.51 1016.83L530.51 1015.23L532.56 1013.18L534.16 1013.18ZM536.21 1018.42L536.21 1020.02L534.16 1022.07L532.56 1022.07L530.51 1020.02L530.51 1018.42L532.56 1016.37L534.16 1016.37ZM550.34 1024.57L550.34 1026.17L548.29 1028.22L546.69 1028.22L544.64 1026.17L544.64 1024.57L546.69 1022.52L548.29 1022.52ZM527.35 990.20L527.35 991.80L525.30 993.85L523.70 993.85L521.65 991.80L521.65 990.20L523.70 988.15L525.30 988.15ZM529.85 992.20L529.85 993.80L527.80 995.85L526.20 995.85L524.15 993.80L524.15 992.20L526.20 990.15L527.80 990.15ZM528.85 988.70L528.85 990.30L526.80 992.35L525.20 992.35L523.15 990.30L523.15 988.70L525.20 986.65L526.80 986.65ZM540.35 975.20L540.35 976.80L538.30 978.85L536.70 978.85L534.65 976.80L534.65 975.20L536.70 973.15L538.30 973.15ZM541.85 978.20L541.85 979.80L539.80 981.85L538.20 981.85L536.15 979.80L536.15 978.20L538.20 976.15L539.80 976.15ZM539.35 979.70L539.35 981.30L537.30 983.35L535.70 983.35L533.65 981.30L533.65 979.70L535.70 977.65L537.30 977.65ZM526.35 956.20L526.35 957.80L524.30 959.85L522.70 959.85L520.65 957.80L520.65 956.20L522.70 954.15L524.30 954.15ZM524.85 957.70L524.85 959.30L522.80 961.35L521.20 961.35L519.15 959.30L519.15 957.70L521.20 955.65L522.80 955.65ZM541.85 942.20L541.85 943.80L539.80 945.85L538.20 945.85L536.15 943.80L536.15 942.20L538.20 940.15L539.80 940.15ZM544.35 945.20L544.35 946.80L542.30 948.85L540.70 948.85L538.65 946.80L538.65 945.20L540.70 943.15L542.30 943.15ZM538.85 946.20L538.85 947.80L536.80 949.85L535.20 949.85L533.15 947.80L533.15 946.20L535.20 944.15L536.80 944.15ZM543.85 939.70L543.85 941.30L541.80 943.35L540.20 943.35L538.15 941.30L538.15 939.70L540.20 937.65L541.80 937.65ZM535.85 921.10L535.85 922.70L533.80 924.75L532.20 924.75L530.15 922.70L530.15 921.10L532.20 919.05L533.80 919.05ZM533.05 924.60L533.05 926.20L531.00 928.25L529.40 928.25L527.35 926.20L527.35 924.60L529.40 922.55L531.00 922.55ZM537.95 925.30L537.95 926.90L535.90 928.95L534.30 928.95L532.25 926.90L532.25 925.30L534.30 923.25L535.90 923.25ZM533.75 928.80L533.75 930.40L531.70 932.45L530.10 932.45L528.05 930.40L528.05 928.80L530.10 926.75L531.70 926.75ZM537.25 930.90L537.25 932.50L535.20 934.55L533.60 934.55L531.55 932.50L531.55 930.90L533.60 928.85L535.20 928.85ZM534.45 935.10L534.45 936.70L532.40 938.75L530.80 938.75L528.75 936.70L528.75 935.10L530.80 933.05L532.40 933.05ZM539.35 936.50L539.35 938.10L537.30 940.15L535.70 940.15L533.65 938.10L533.65 936.50L535.70 934.45L537.30 934.45Z" stroke="#2020ff" stroke-width="1.4" stroke-linejoin="round" fill="none"/>
<path d="M948.24 882.82L948.24 884.42L946.19 886.47L944.59 886.47L942.54 884.42L942.54 882.82L944.59 880.77L946.19 880.77ZM963.51 879.40L963.51 881.00L961.46 883.05L959.86 883.05L957.81 881.00L957.81 879.40L959.86 877.35L961.46 877.35ZM980.60 884.42L980.60 886.02L978.55 888.07L976.95 888.07L974.90 886.02L974.90 884.42L976.95 882.37L978.55 882.37ZM1011.14 902.88L1011.14 904.48L1009.09 906.53L1007.49 906.53L1005.44 904.48L1005.44 902.88L1007.49 900.83L1009.09 900.83ZM930.92 893.30L930.92 894.90L928.87 896.95L927.27 896.95L925.22 894.90L925.22 893.30L927.27 891.25L928.87 891.25ZM929.78 896.72L929.78 898.32L927.73 900.37L926.13 900.37L924.08 898.32L924.08 896.72L926.13 894.67L927.73 894.67ZM923.62 901.28L923.62 902.88L921.57 904.93L919.97 904.93L917.92 902.88L917.92 901.28L919.97 899.23L921.57 899.23ZM917.24 904.47L917.24 906.07L915.19 908.12L913.59 908.12L911.54 906.07L911.54 904.47L913.59 902.42L915.19 902.42ZM932.74 909.26L932.74 910.86L930.69 912.91L929.09 912.91L927.04 910.86L927.04 909.26L929.09 907.21L930.69 907.21ZM921.80 913.59L921.80 915.19L919.75 917.24L918.15 917.24L916.10 915.19L916.10 913.59L918.15 911.54L919.75 911.54ZM938.89 915.18L938.89 916.78L936.84 918.83L935.24 918.83L933.19 916.78L933.19 915.18L935.24 913.13L936.84 913.13ZM932.74 918.37L932.74 919.97L930.69 922.02L929.09 922.02L927.04 919.97L927.04 918.37L929.09 916.32L930.69 916.32ZM900.15 924.30L900.15 925.90L898.10 927.95L896.50 927.95L894.45 925.90L894.45 924.30L896.50 922.25L898.10 922.25ZM946.87 924.30L946.87 925.90L944.82 927.95L943.22 927.95L941.17 925.90L941.17 924.30L943.22 922.25L944.82 922.25ZM951.88 921.56L951.88 923.16L949.83 925.21L948.23 925.21L946.18 923.16L946.18 921.56L948.23 919.51L949.83 919.51ZM944.59 927.72L944.59 929.32L942.54 931.37L940.94 931.37L938.89 929.32L938.89 927.72L940.94 925.67L942.54 925.67ZM952.57 927.72L952.57 929.32L950.52 931.37L948.92 931.37L946.87 929.32L946.87 927.72L948.92 925.67L950.52 925.67ZM919.07 930.45L919.07 932.05L917.02 934.10L915.42 934.10L913.37 932.05L913.37 930.45L915.42 928.40L917.02 928.40ZM919.07 935.47L919.07 937.07L917.02 939.12L915.42 939.12L913.37 937.07L913.37 935.47L915.42 933.42L917.02 933.42ZM926.36 933.87L926.36 935.47L924.31 937.52L922.71 937.52L920.66 935.47L920.66 933.87L922.71 931.82L924.31 931.82ZM929.78 933.87L929.78 935.47L927.73 937.52L926.13 937.52L924.08 935.47L924.08 933.87L926.13 931.82L927.73 931.82ZM933.20 935.47L933.20 937.07L931.15 939.12L929.55 939.12L927.50 937.07L927.50 935.47L929.55 933.42L931.15 933.42ZM947.33 932.27L947.33 933.87L945.28 935.92L943.68 935.92L941.63 933.87L941.63 932.27L943.68 930.22L945.28 930.22ZM948.69 936.83L948.69 938.43L946.64 940.48L945.04 940.48L942.99 938.43L942.99 936.83L945.04 934.78L946.64 934.78ZM895.59 941.39L895.59 942.99L893.54 945.04L891.94 945.04L889.89 942.99L889.89 941.39L891.94 939.34L893.54 939.34ZM901.29 938.20L901.29 939.80L899.24 941.85L897.64 941.85L895.59 939.80L895.59 938.20L897.64 936.15L899.24 936.15ZM901.29 944.13L901.29 945.73L899.24 947.78L897.64 947.78L895.59 945.73L895.59 944.13L897.64 942.08L899.24 942.08ZM900.15 947.77L900.15 949.37L898.10 951.42L896.50 951.42L894.45 949.37L894.45 947.77L896.50 945.72L898.10 945.72ZM952.79 940.02L952.79 941.62L950.74 943.67L949.14 943.67L947.09 941.62L947.09 940.02L949.14 937.97L950.74 937.97ZM944.59 942.99L944.59 944.59L942.54 946.64L940.94 946.64L938.89 944.59L938.89 942.99L940.94 940.94L942.54 940.94ZM883.51 947.77L883.51 949.37L881.46 951.42L879.86 951.42L877.81 949.37L877.81 947.77L879.86 945.72L881.46 945.72ZM886.48 952.33L886.48 953.93L884.43 955.98L882.83 955.98L880.78 953.93L880.78 952.33L882.83 950.28L884.43 950.28ZM917.70 944.58L917.70 946.18L915.65 948.23L914.05 948.23L912.00 946.18L912.00 944.58L914.05 942.53L915.65 942.53ZM922.26 949.14L922.26 950.74L920.21 952.79L918.61 952.79L916.56 950.74L916.56 949.14L918.61 947.09L920.21 947.09ZM928.18 942.99L928.18 944.59L926.13 946.64L924.53 946.64L922.48 944.59L922.48 942.99L924.53 940.94L926.13 940.94ZM940.03 947.77L940.03 949.37L937.98 951.42L936.38 951.42L934.33 949.37L934.33 947.77L936.38 945.72L937.98 945.72ZM941.17 949.14L941.17 950.74L939.12 952.79L937.52 952.79L935.47 950.74L935.47 949.14L937.52 947.09L939.12 947.09ZM1039.17 930.45L1039.17 932.05L1037.12 934.10L1035.52 934.10L1033.47 932.05L1033.47 930.45L1035.52 928.40L1037.12 928.40ZM1043.95 953.70L1043.95 955.30L1041.90 957.35L1040.30 957.35L1038.25 955.30L1038.25 953.70L1040.30 951.65L1041.90 951.65ZM1054.44 968.97L1054.44 970.57L1052.39 972.62L1050.79 972.62L1048.74 970.57L1048.74 968.97L1050.79 966.92L1052.39 966.92ZM1048.29 979.91L1048.29 981.51L1046.24 983.56L1044.64 983.56L1042.59 981.51L1042.59 979.91L1044.64 977.86L1046.24 977.86ZM899.01 956.66L899.01 958.26L896.96 960.31L895.36 960.31L893.31 958.26L893.31 956.66L895.36 954.61L896.96 954.61ZM891.03 960.08L891.03 961.68L888.98 963.73L887.38 963.73L885.33 961.68L885.33 960.08L887.38 958.03L888.98 958.03ZM903.57 958.26L903.57 959.86L901.52 961.91L899.92 961.91L897.87 959.86L897.87 958.26L899.92 956.21L901.52 956.21ZM906.99 960.08L906.99 961.68L904.94 963.73L903.34 963.73L901.29 961.68L901.29 960.08L903.34 958.03L904.94 958.03ZM911.54 956.66L911.54 958.26L909.49 960.31L907.89 960.31L905.84 958.26L905.84 956.66L907.89 954.61L909.49 954.61ZM886.48 962.81L886.48 964.41L884.43 966.46L882.83 966.46L880.78 964.41L880.78 962.81L882.83 960.76L884.43 960.76ZM944.59 961.45L944.59 963.05L942.54 965.10L940.94 965.10L938.89 963.05L938.89 961.45L940.94 959.40L942.54 959.40ZM908.13 968.97L908.13 970.57L906.08 972.62L904.48 972.62L902.43 970.57L902.43 968.97L904.48 966.92L906.08 966.92ZM889.44 973.75L889.44 975.35L887.39 977.40L885.79 977.40L883.74 975.35L883.74 973.75L885.79 971.70L887.39 971.70ZM895.59 972.16L895.59 973.76L893.54 975.81L891.94 975.81L889.89 973.76L889.89 972.16L891.94 970.11L893.54 970.11ZM905.85 973.75L905.85 975.35L903.80 977.40L902.20 977.40L900.15 975.35L900.15 973.75L902.20 971.70L903.80 971.70ZM899.01 978.31L899.01 979.91L896.96 981.96L895.36 981.96L893.31 979.91L893.31 978.31L895.36 976.26L896.96 976.26ZM906.99 978.31L906.99 979.91L904.94 981.96L903.34 981.96L901.29 979.91L901.29 978.31L903.34 976.26L904.94 976.26ZM909.95 979.91L909.95 981.51L907.90 983.56L906.30 983.56L904.25 981.51L904.25 979.91L906.30 977.86L907.90 977.86ZM932.74 976.72L932.74 978.32L930.69 980.37L929.09 980.37L927.04 978.32L927.04 976.72L929.09 974.67L930.69 974.67ZM934.33 978.31L934.33 979.91L932.28 981.96L930.68 981.96L928.63 979.91L928.63 978.31L930.68 976.26L932.28 976.26ZM942.31 981.50L942.31 983.10L940.26 985.15L938.66 985.15L936.61 983.10L936.61 981.50L938.66 979.45L940.26 979.45ZM948.69 976.72L948.69 978.32L946.64 980.37L945.04 980.37L942.99 978.32L942.99 976.72L945.04 974.67L946.64 974.67ZM958.72 979.91L958.72 981.51L956.67 983.56L955.07 983.56L953.02 981.51L953.02 979.91L955.07 977.86L956.67 977.86ZM991.54 979.91L991.54 981.51L989.49 983.56L987.89 983.56L985.84 981.51L985.84 979.91L987.89 977.86L989.49 977.86ZM1009.54 984.69L1009.54 986.29L1007.49 988.34L1005.89 988.34L1003.84 986.29L1003.84 984.69L1005.89 982.64L1007.49 982.64ZM1023.44 989.25L1023.44 990.85L1021.39 992.90L1019.79 992.90L1017.74 990.85L1017.74 989.25L1019.79 987.20L1021.39 987.20ZM916.10 986.29L916.10 987.89L914.05 989.94L912.45 989.94L910.40 987.89L910.40 986.29L912.45 984.24L914.05 984.24ZM888.07 986.29L888.07 987.89L886.02 989.94L884.42 989.94L882.37 987.89L882.37 986.29L884.42 984.24L886.02 984.24ZM895.59 990.85L895.59 992.45L893.54 994.50L891.94 994.50L889.89 992.45L889.89 990.85L891.94 988.80L893.54 988.80ZM903.57 990.85L903.57 992.45L901.52 994.50L899.92 994.50L897.87 992.45L897.87 990.85L899.92 988.80L901.52 988.80ZM892.63 993.81L892.63 995.41L890.58 997.46L888.98 997.46L886.93 995.41L886.93 993.81L888.98 991.76L890.58 991.76ZM889.89 992.44L889.89 994.04L887.84 996.09L886.24 996.09L884.19 994.04L884.19 992.44L886.24 990.39L887.84 990.39ZM881.23 992.44L881.23 994.04L879.18 996.09L877.58 996.09L875.53 994.04L875.53 992.44L877.58 990.39L879.18 990.39ZM877.36 998.59L877.36 1000.19L875.31 1002.24L873.71 1002.24L871.66 1000.19L871.66 998.59L873.71 996.54L875.31 996.54ZM880.32 1003.15L880.32 1004.75L878.27 1006.80L876.67 1006.80L874.62 1004.75L874.62 1003.15L876.67 1001.10L878.27 1001.10ZM872.80 1007.48L872.80 1009.08L870.75 1011.13L869.15 1011.13L867.10 1009.08L867.10 1007.48L869.15 1005.43L870.75 1005.43ZM872.80 1015.23L872.80 1016.83L870.75 1018.88L869.15 1018.88L867.10 1016.83L867.10 1015.23L869.15 1013.18L870.75 1013.18ZM877.36 1018.42L877.36 1020.02L875.31 1022.07L873.71 1022.07L871.66 1020.02L871.66 1018.42L873.71 1016.37L875.31 1016.37ZM872.80 1024.57L872.80 1026.17L870.75 1028.22L869.15 1028.22L867.10 1026.17L867.10 1024.57L869.15 1022.52L870.75 1022.52ZM944.35 923.70L944.35 925.30L942.30 927.35L940.70 927.35L938.65 925.30L938.65 923.70L940.70 921.65L942.30 921.65ZM947.35 927.20L947.35 928.80L945.30 930.85L943.70 930.85L941.65 928.80L941.65 927.20L943.70 925.15L945.30 925.15ZM946.85 932.20L946.85 933.80L944.80 935.85L943.20 935.85L941.15 933.80L941.15 932.20L943.20 930.15L944.80 930.15ZM947.35 937.20L947.35 938.80L945.30 940.85L943.70 940.85L941.65 938.80L941.65 937.20L943.70 935.15L945.30 935.15ZM928.85 933.20L928.85 934.80L926.80 936.85L925.20 936.85L923.15 934.80L923.15 933.20L925.20 931.15L926.80 931.15ZM901.35 944.70L901.35 946.30L899.30 948.35L897.70 948.35L895.65 946.30L895.65 944.70L897.70 942.65L899.30 942.65ZM930.35 896.20L930.35 897.80L928.30 899.85L926.70 899.85L924.65 897.80L924.65 896.20L926.70 894.15L928.30 894.15Z" stroke="#2020ff" stroke-width="1.4" stroke-linejoin="round" fill="none"/>
<path d="M985.70 289.66L985.70 291.34L983.54 293.50L981.86 293.50L979.70 291.34L979.70 289.66L981.86 287.50L983.54 287.50ZM1059.60 258.26L1059.60 259.94L1057.44 262.10L1055.76 262.10L1053.60 259.94L1053.60 258.26L1055.76 256.10L1057.44 256.10ZM1073.40 256.46L1073.40 258.14L1071.24 260.30L1069.56 260.30L1067.40 258.14L1067.40 256.46L1069.56 254.30L1071.24 254.30ZM1047.70 309.36L1047.70 311.04L1045.54 313.20L1043.86 313.20L1041.70 311.04L1041.70 309.36L1043.86 307.20L1045.54 307.20ZM1023.60 341.06L1023.60 342.74L1021.44 344.90L1019.76 344.90L1017.60 342.74L1017.60 341.06L1019.76 338.90L1021.44 338.90ZM1172.60 235.26L1172.60 236.94L1170.44 239.10L1168.76 239.10L1166.60 236.94L1166.60 235.26L1168.76 233.10L1170.44 233.10ZM1244.90 208.36L1244.90 210.04L1242.74 212.20L1241.06 212.20L1238.90 210.04L1238.90 208.36L1241.06 206.20L1242.74 206.20ZM1290.30 191.66L1290.30 193.34L1288.14 195.50L1286.46 195.50L1284.30 193.34L1284.30 191.66L1286.46 189.50L1288.14 189.50ZM1426.20 179.96L1426.20 181.64L1424.04 183.80L1422.36 183.80L1420.20 181.64L1420.20 179.96L1422.36 177.80L1424.04 177.80ZM1451.80 199.36L1451.80 201.04L1449.64 203.20L1447.96 203.20L1445.80 201.04L1445.80 199.36L1447.96 197.20L1449.64 197.20ZM979.70 348.66L979.70 350.34L977.54 352.50L975.86 352.50L973.70 350.34L973.70 348.66L975.86 346.50L977.54 346.50ZM955.60 359.16L955.60 360.84L953.44 363.00L951.76 363.00L949.60 360.84L949.60 359.16L951.76 357.00L953.44 357.00ZM966.30 357.36L966.30 359.04L964.14 361.20L962.46 361.20L960.30 359.04L960.30 357.36L962.46 355.20L964.14 355.20ZM961.70 360.86L961.70 362.54L959.54 364.70L957.86 364.70L955.70 362.54L955.70 360.86L957.86 358.70L959.54 358.70ZM964.40 365.46L964.40 367.14L962.24 369.30L960.56 369.30L958.40 367.14L958.40 365.46L960.56 363.30L962.24 363.30ZM970.50 364.56L970.50 366.24L968.34 368.40L966.66 368.40L964.50 366.24L964.50 364.56L966.66 362.40L968.34 362.40ZM974.00 367.06L974.00 368.74L971.84 370.90L970.16 370.90L968.00 368.74L968.00 367.06L970.16 364.90L971.84 364.90ZM969.20 366.76L969.20 368.44L967.04 370.60L965.36 370.60L963.20 368.44L963.20 366.76L965.36 364.60L967.04 364.60ZM967.40 371.56L967.40 373.24L965.24 375.40L963.56 375.40L961.40 373.24L961.40 371.56L963.56 369.40L965.24 369.40ZM981.30 359.16L981.30 360.84L979.14 363.00L977.46 363.00L975.30 360.84L975.30 359.16L977.46 357.00L979.14 357.00ZM984.30 366.46L984.30 368.14L982.14 370.30L980.46 370.30L978.30 368.14L978.30 366.46L980.46 364.30L982.14 364.30ZM985.80 371.46L985.80 373.14L983.64 375.30L981.96 375.30L979.80 373.14L979.80 371.46L981.96 369.30L983.64 369.30ZM996.60 366.46L996.60 368.14L994.44 370.30L992.76 370.30L990.60 368.14L990.60 366.46L992.76 364.30L994.44 364.30ZM994.20 368.06L994.20 369.74L992.04 371.90L990.36 371.90L988.20 369.74L988.20 368.06L990.36 365.90L992.04 365.90ZM951.00 371.16L951.00 372.84L948.84 375.00L947.16 375.00L945.00 372.84L945.00 371.16L947.16 369.00L948.84 369.00ZM978.00 375.96L978.00 377.64L975.84 379.80L974.16 379.80L972.00 377.64L972.00 375.96L974.16 373.80L975.84 373.80ZM983.80 379.06L983.80 380.74L981.64 382.90L979.96 382.90L977.80 380.74L977.80 379.06L979.96 376.90L981.64 376.90ZM987.60 382.16L987.60 383.84L985.44 386.00L983.76 386.00L981.60 383.84L981.60 382.16L983.76 380.00L985.44 380.00ZM932.80 380.16L932.80 381.84L930.64 384.00L928.96 384.00L926.80 381.84L926.80 380.16L928.96 378.00L930.64 378.00ZM917.90 392.16L917.90 393.84L915.74 396.00L914.06 396.00L911.90 393.84L911.90 392.16L914.06 390.00L915.74 390.00ZM940.50 398.36L940.50 400.04L938.34 402.20L936.66 402.20L934.50 400.04L934.50 398.36L936.66 396.20L938.34 396.20ZM951.00 398.36L951.00 400.04L948.84 402.20L947.16 402.20L945.00 400.04L945.00 398.36L947.16 396.20L948.84 396.20ZM957.30 393.66L957.30 395.34L955.14 397.50L953.46 397.50L951.30 395.34L951.30 393.66L953.46 391.50L955.14 391.50ZM971.80 391.76L971.80 393.44L969.64 395.60L967.96 395.60L965.80 393.44L965.80 391.76L967.96 389.60L969.64 389.60ZM975.30 393.96L975.30 395.64L973.14 397.80L971.46 397.80L969.30 395.64L969.30 393.96L971.46 391.80L973.14 391.80ZM969.20 399.86L969.20 401.54L967.04 403.70L965.36 403.70L963.20 401.54L963.20 399.86L965.36 397.70L967.04 397.70ZM984.30 395.56L984.30 397.24L982.14 399.40L980.46 399.40L978.30 397.24L978.30 395.56L980.46 393.40L982.14 393.40ZM989.10 390.86L989.10 392.54L986.94 394.70L985.26 394.70L983.10 392.54L983.10 390.86L985.26 388.70L986.94 388.70ZM985.80 404.16L985.80 405.84L983.64 408.00L981.96 408.00L979.80 405.84L979.80 404.16L981.96 402.00L983.64 402.00ZM972.20 408.66L972.20 410.34L970.04 412.50L968.36 412.50L966.20 410.34L966.20 408.66L968.36 406.50L970.04 406.50ZM964.40 411.96L964.40 413.64L962.24 415.80L960.56 415.80L958.40 413.64L958.40 411.96L960.56 409.80L962.24 409.80ZM965.40 411.06L965.40 412.74L963.24 414.90L961.56 414.90L959.40 412.74L959.40 411.06L961.56 408.90L963.24 408.90ZM952.50 417.16L952.50 418.84L950.34 421.00L948.66 421.00L946.50 418.84L946.50 417.16L948.66 415.00L950.34 415.00ZM952.50 420.26L952.50 421.94L950.34 424.10L948.66 424.10L946.50 421.94L946.50 420.26L948.66 418.10L950.34 418.10ZM940.50 420.86L940.50 422.54L938.34 424.70L936.66 424.70L934.50 422.54L934.50 420.86L936.66 418.70L938.34 418.70ZM979.70 416.26L979.70 417.94L977.54 420.10L975.86 420.10L973.70 417.94L973.70 416.26L975.86 414.10L977.54 414.10ZM1003.80 419.36L1003.80 421.04L1001.64 423.20L999.96 423.20L997.80 421.04L997.80 419.36L999.96 417.20L1001.64 417.20ZM982.70 431.56L982.70 433.24L980.54 435.40L978.86 435.40L976.70 433.24L976.70 431.56L978.86 429.40L980.54 429.40ZM1005.40 434.36L1005.40 436.04L1003.24 438.20L1001.56 438.20L999.40 436.04L999.40 434.36L1001.56 432.20L1003.24 432.20ZM1010.00 439.06L1010.00 440.74L1007.84 442.90L1006.16 442.90L1004.00 440.74L1004.00 439.06L1006.16 436.90L1007.84 436.90ZM1020.40 437.56L1020.40 439.24L1018.24 441.40L1016.56 441.40L1014.40 439.24L1014.40 437.56L1016.56 435.40L1018.24 435.40ZM945.00 438.46L945.00 440.14L942.84 442.30L941.16 442.30L939.00 440.14L939.00 438.46L941.16 436.30L942.84 436.30ZM945.00 443.66L945.00 445.34L942.84 447.50L941.16 447.50L939.00 445.34L939.00 443.66L941.16 441.50L942.84 441.50ZM961.50 440.46L961.50 442.14L959.34 444.30L957.66 444.30L955.50 442.14L955.50 440.46L957.66 438.30L959.34 438.30ZM954.10 444.76L954.10 446.44L951.94 448.60L950.26 448.60L948.10 446.44L948.10 444.76L950.26 442.60L951.94 442.60ZM955.40 449.76L955.40 451.44L953.24 453.60L951.56 453.60L949.40 451.44L949.40 449.76L951.56 447.60L953.24 447.60ZM955.40 457.06L955.40 458.74L953.24 460.90L951.56 460.90L949.40 458.74L949.40 457.06L951.56 454.90L953.24 454.90ZM932.90 451.06L932.90 452.74L930.74 454.90L929.06 454.90L926.90 452.74L926.90 451.06L929.06 448.90L930.74 448.90ZM945.00 452.56L945.00 454.24L942.84 456.40L941.16 456.40L939.00 454.24L939.00 452.56L941.16 450.40L942.84 450.40ZM969.00 447.96L969.00 449.64L966.84 451.80L965.16 451.80L963.00 449.64L963.00 447.96L965.16 445.80L966.84 445.80ZM976.70 449.76L976.70 451.44L974.54 453.60L972.86 453.60L970.70 451.44L970.70 449.76L972.86 447.60L974.54 447.60ZM982.70 444.96L982.70 446.64L980.54 448.80L978.86 448.80L976.70 446.64L976.70 444.96L978.86 442.80L980.54 442.80ZM978.00 458.66L978.00 460.34L975.84 462.50L974.16 462.50L972.00 460.34L972.00 458.66L974.16 456.50L975.84 456.50ZM984.30 456.96L984.30 458.64L982.14 460.80L980.46 460.80L978.30 458.64L978.30 456.96L980.46 454.80L982.14 454.80ZM986.90 464.46L986.90 466.14L984.74 468.30L983.06 468.30L980.90 466.14L980.90 464.46L983.06 462.30L984.74 462.30ZM993.30 463.16L993.30 464.84L991.14 467.00L989.46 467.00L987.30 464.84L987.30 463.16L989.46 461.00L991.14 461.00ZM935.90 470.76L935.90 472.44L933.74 474.60L932.06 474.60L929.90 472.44L929.90 470.76L932.06 468.60L933.74 468.60ZM942.00 467.46L942.00 469.14L939.84 471.30L938.16 471.30L936.00 469.14L936.00 467.46L938.16 465.30L939.84 465.30ZM955.40 467.46L955.40 469.14L953.24 471.30L951.56 471.30L949.40 469.14L949.40 467.46L951.56 465.30L953.24 465.30ZM964.70 473.56L964.70 475.24L962.54 477.40L960.86 477.40L958.70 475.24L958.70 473.56L960.86 471.40L962.54 471.40ZM978.20 472.26L978.20 473.94L976.04 476.10L974.36 476.10L972.20 473.94L972.20 472.26L974.36 470.10L976.04 470.10ZM981.20 479.66L981.20 481.34L979.04 483.50L977.36 483.50L975.20 481.34L975.20 479.66L977.36 477.50L979.04 477.50ZM966.30 481.36L966.30 483.04L964.14 485.20L962.46 485.20L960.30 483.04L960.30 481.36L962.46 479.20L964.14 479.20ZM961.50 484.36L961.50 486.04L959.34 488.20L957.66 488.20L955.50 486.04L955.50 484.36L957.66 482.20L959.34 482.20ZM943.60 488.76L943.60 490.44L941.44 492.60L939.76 492.60L937.60 490.44L937.60 488.76L939.76 486.60L941.44 486.60ZM997.90 488.76L997.90 490.44L995.74 492.60L994.06 492.60L991.90 490.44L991.90 488.76L994.06 486.60L995.74 486.60ZM967.60 497.86L967.60 499.54L965.44 501.70L963.76 501.70L961.60 499.54L961.60 497.86L963.76 495.70L965.44 495.70ZM911.70 497.86L911.70 499.54L909.54 501.70L907.86 501.70L905.70 499.54L905.70 497.86L907.86 495.70L909.54 495.70ZM915.10 499.56L915.10 501.24L912.94 503.40L911.26 503.40L909.10 501.24L909.10 499.56L911.26 497.40L912.94 497.40Z" stroke="#2020ff" stroke-width="1.4" stroke-linejoin="round" fill="none"/>
<line x1="135.5" y1="443.6" x2="464" y2="406.3" stroke="#ff00ff" stroke-width="1.4"/>
<line x1="135.5" y1="685.9" x2="464" y2="693.5" stroke="#ff00ff" stroke-width="1.4"/>
<line x1="470" y1="724.2" x2="781.1" y2="582.2" stroke="#ff00ff" stroke-width="1.4"/>
<line x1="135.5" y1="952.9" x2="464" y2="954.3" stroke="#ff00ff" stroke-width="1.4"/>
<line x1="470" y1="944.9" x2="781.1" y2="980.7" stroke="#ff00ff" stroke-width="1.4"/>
<line x1="826.9" y1="978.0" x2="1133.4" y2="903.4" stroke="#ff00ff" stroke-width="1.4"/>
<line x1="853" y1="483.7" x2="1495.7" y2="97.3" stroke="#ff00ff" stroke-width="1.4"/>
<path d="M981.1 392.6L982.2 386.7L983.2 382.8L984.3 379.6L985.3 376.8L986.4 374.4L987.4 372.1L988.5 370.0L989.5 368.0L990.6 366.2L991.6 364.4L992.7 362.7" stroke="#1a1a1a" stroke-width="1.4" stroke-linejoin="round" fill="none"/>
<path d="M1006.2 345.2L1009.7 341.5L1013.2 338.0L1016.7 334.6L1020.2 331.4L1023.7 328.4L1027.2 325.4L1030.7 322.5L1034.2 319.8L1037.7 317.1L1041.2 314.5L1044.7 312.0" stroke="#1a1a1a" stroke-width="1.4" stroke-linejoin="round" fill="none"/>
<path d="M1059.2 302.1L1062.4 300.1L1065.5 298.1L1068.7 296.2L1071.8 294.2L1075.0 292.3L1078.1 290.5L1081.3 288.6L1084.4 286.8L1087.6 285.1L1090.7 283.3L1093.9 281.6" stroke="#1a1a1a" stroke-width="1.4" stroke-linejoin="round" fill="none"/>
<path d="M1108.8 273.7L1111.8 272.1L1114.8 270.6L1117.8 269.1L1120.8 267.6L1123.8 266.2L1126.7 264.7L1129.7 263.3L1132.7 261.8L1135.7 260.4L1138.7 259.0L1141.7 257.6" stroke="#1a1a1a" stroke-width="1.4" stroke-linejoin="round" fill="none"/>
<path d="M1160.1 249.3L1163.0 248.1L1165.8 246.8L1168.7 245.6L1171.6 244.4L1174.5 243.1L1177.3 241.9L1180.2 240.7L1183.1 239.5L1186.0 238.3L1188.8 237.2L1191.7 236.0" stroke="#1a1a1a" stroke-width="1.4" stroke-linejoin="round" fill="none"/>
<path d="M1208.8 229.1L1211.5 228.1L1214.2 227.0L1217.0 226.0L1219.7 224.9L1222.4 223.9L1225.1 222.8L1227.8 221.8L1230.5 220.8L1233.3 219.8L1236.0 218.8L1238.7 217.7" stroke="#1a1a1a" stroke-width="1.4" stroke-linejoin="round" fill="none"/>
<path d="M1258.5 210.5L1260.9 209.7L1263.3 208.8L1265.7 208.0L1268.1 207.1L1270.5 206.3L1273.0 205.4L1275.4 204.6L1277.8 203.7L1280.2 202.9L1282.6 202.1L1285.0 201.3" stroke="#1a1a1a" stroke-width="1.4" stroke-linejoin="round" fill="none"/>
<path d="M1303.7 194.9L1306.7 193.9L1309.6 193.0L1312.6 192.0L1315.6 191.0L1318.6 190.0L1321.5 189.1L1324.5 188.1L1327.5 187.1L1330.5 186.2L1333.4 185.2L1336.4 184.3" stroke="#1a1a1a" stroke-width="1.4" stroke-linejoin="round" fill="none"/>
<path d="M1351.7 179.4L1354.6 178.5L1357.5 177.6L1360.4 176.7L1363.3 175.8L1366.2 174.9L1369.2 174.1L1372.1 173.2L1375.0 172.3L1377.9 171.4L1380.8 170.5L1383.7 169.6" stroke="#1a1a1a" stroke-width="1.4" stroke-linejoin="round" fill="none"/>
<path d="M1403.6 163.7L1406.4 162.9L1409.3 162.1L1412.1 161.2L1415.0 160.4L1417.8 159.6L1420.7 158.8L1423.5 157.9L1426.4 157.1L1429.2 156.3L1432.1 155.5L1434.9 154.7" stroke="#1a1a1a" stroke-width="1.4" stroke-linejoin="round" fill="none"/>
<path d="M1454.1 149.3L1456.5 148.6L1459.0 147.9L1461.4 147.3L1463.8 146.6L1466.2 145.9L1468.7 145.3L1471.1 144.6L1473.5 143.9L1475.9 143.3L1478.4 142.6L1480.8 142.0" stroke="#1a1a1a" stroke-width="1.4" stroke-linejoin="round" fill="none"/></svg>
</body></html>
